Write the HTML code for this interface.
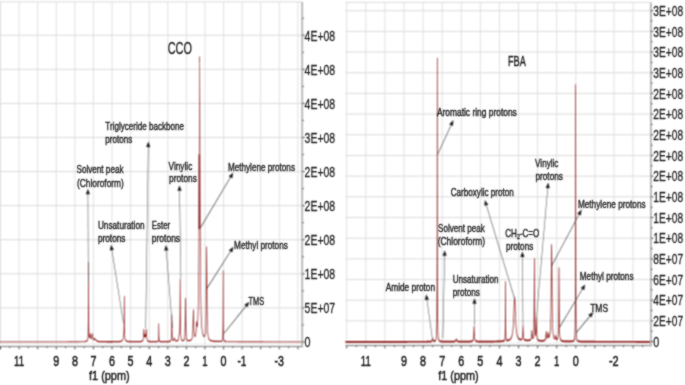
<!DOCTYPE html>
<html><head><meta charset="utf-8"><style>
html,body{margin:0;padding:0;background:#fff;width:685px;height:385px;overflow:hidden}
svg{display:block}
</style></head><body>
<svg width="685" height="385" viewBox="0 0 685 385"><defs><filter id="bl" x="0" y="0" width="1" height="1" color-interpolation-filters="sRGB"><feConvolveMatrix order="3" kernelMatrix="1 2 1 2 4 2 1 2 1" divisor="16" edgeMode="duplicate"/></filter><filter id="bt" x="0" y="0" width="1" height="1" color-interpolation-filters="sRGB"><feConvolveMatrix order="3" kernelMatrix="1 2 1 2 12 2 1 2 1" divisor="24" edgeMode="duplicate"/></filter></defs><g filter="url(#bl)"><rect width="685" height="385" fill="#ffffff"/><line x1="0.00" y1="307.90" x2="302.20" y2="307.90" stroke="#dadada" stroke-width="1"/><line x1="0.00" y1="273.82" x2="302.20" y2="273.82" stroke="#dadada" stroke-width="1"/><line x1="0.00" y1="239.74" x2="302.20" y2="239.74" stroke="#dadada" stroke-width="1"/><line x1="0.00" y1="205.66" x2="302.20" y2="205.66" stroke="#dadada" stroke-width="1"/><line x1="0.00" y1="171.58" x2="302.20" y2="171.58" stroke="#dadada" stroke-width="1"/><line x1="0.00" y1="137.50" x2="302.20" y2="137.50" stroke="#dadada" stroke-width="1"/><line x1="0.00" y1="103.42" x2="302.20" y2="103.42" stroke="#dadada" stroke-width="1"/><line x1="0.00" y1="69.34" x2="302.20" y2="69.34" stroke="#dadada" stroke-width="1"/><line x1="0.00" y1="35.26" x2="302.20" y2="35.26" stroke="#dadada" stroke-width="1"/><line x1="0.00" y1="1.90" x2="302.20" y2="1.90" stroke="#dadada" stroke-width="1"/><line x1="297.90" y1="1.90" x2="297.90" y2="344.60" stroke="#e0e0e0" stroke-width="1"/><line x1="279.31" y1="1.90" x2="279.31" y2="344.60" stroke="#e0e0e0" stroke-width="1"/><line x1="260.72" y1="1.90" x2="260.72" y2="344.60" stroke="#e0e0e0" stroke-width="1"/><line x1="242.14" y1="1.90" x2="242.14" y2="344.60" stroke="#e0e0e0" stroke-width="1"/><line x1="223.55" y1="1.90" x2="223.55" y2="344.60" stroke="#e0e0e0" stroke-width="1"/><line x1="204.96" y1="1.90" x2="204.96" y2="344.60" stroke="#e0e0e0" stroke-width="1"/><line x1="186.38" y1="1.90" x2="186.38" y2="344.60" stroke="#e0e0e0" stroke-width="1"/><line x1="167.79" y1="1.90" x2="167.79" y2="344.60" stroke="#e0e0e0" stroke-width="1"/><line x1="149.20" y1="1.90" x2="149.20" y2="344.60" stroke="#e0e0e0" stroke-width="1"/><line x1="130.62" y1="1.90" x2="130.62" y2="344.60" stroke="#e0e0e0" stroke-width="1"/><line x1="112.03" y1="1.90" x2="112.03" y2="344.60" stroke="#e0e0e0" stroke-width="1"/><line x1="93.44" y1="1.90" x2="93.44" y2="344.60" stroke="#e0e0e0" stroke-width="1"/><line x1="74.85" y1="1.90" x2="74.85" y2="344.60" stroke="#e0e0e0" stroke-width="1"/><line x1="56.27" y1="1.90" x2="56.27" y2="344.60" stroke="#e0e0e0" stroke-width="1"/><line x1="37.68" y1="1.90" x2="37.68" y2="344.60" stroke="#e0e0e0" stroke-width="1"/><line x1="19.09" y1="1.90" x2="19.09" y2="344.60" stroke="#e0e0e0" stroke-width="1"/><line x1="0.51" y1="1.90" x2="0.51" y2="344.60" stroke="#e0e0e0" stroke-width="1"/><line x1="0.00" y1="344.60" x2="302.20" y2="344.60" stroke="#ececec" stroke-width="1.5"/><line x1="0.00" y1="346.60" x2="302.20" y2="346.60" stroke="#7a7a7a" stroke-width="1.0"/><line x1="0.51" y1="346.60" x2="0.51" y2="349.40" stroke="#555555" stroke-width="1"/><line x1="9.80" y1="346.60" x2="9.80" y2="348.10" stroke="#555555" stroke-width="1"/><line x1="19.09" y1="346.60" x2="19.09" y2="349.40" stroke="#555555" stroke-width="1"/><line x1="28.39" y1="346.60" x2="28.39" y2="348.10" stroke="#555555" stroke-width="1"/><line x1="37.68" y1="346.60" x2="37.68" y2="349.40" stroke="#555555" stroke-width="1"/><line x1="46.97" y1="346.60" x2="46.97" y2="348.10" stroke="#555555" stroke-width="1"/><line x1="56.27" y1="346.60" x2="56.27" y2="349.40" stroke="#555555" stroke-width="1"/><line x1="65.56" y1="346.60" x2="65.56" y2="348.10" stroke="#555555" stroke-width="1"/><line x1="74.85" y1="346.60" x2="74.85" y2="349.40" stroke="#555555" stroke-width="1"/><line x1="84.15" y1="346.60" x2="84.15" y2="348.10" stroke="#555555" stroke-width="1"/><line x1="93.44" y1="346.60" x2="93.44" y2="349.40" stroke="#555555" stroke-width="1"/><line x1="102.73" y1="346.60" x2="102.73" y2="348.10" stroke="#555555" stroke-width="1"/><line x1="112.03" y1="346.60" x2="112.03" y2="349.40" stroke="#555555" stroke-width="1"/><line x1="121.32" y1="346.60" x2="121.32" y2="348.10" stroke="#555555" stroke-width="1"/><line x1="130.62" y1="346.60" x2="130.62" y2="349.40" stroke="#555555" stroke-width="1"/><line x1="139.91" y1="346.60" x2="139.91" y2="348.10" stroke="#555555" stroke-width="1"/><line x1="149.20" y1="346.60" x2="149.20" y2="349.40" stroke="#555555" stroke-width="1"/><line x1="158.50" y1="346.60" x2="158.50" y2="348.10" stroke="#555555" stroke-width="1"/><line x1="167.79" y1="346.60" x2="167.79" y2="349.40" stroke="#555555" stroke-width="1"/><line x1="177.08" y1="346.60" x2="177.08" y2="348.10" stroke="#555555" stroke-width="1"/><line x1="186.38" y1="346.60" x2="186.38" y2="349.40" stroke="#555555" stroke-width="1"/><line x1="195.67" y1="346.60" x2="195.67" y2="348.10" stroke="#555555" stroke-width="1"/><line x1="204.96" y1="346.60" x2="204.96" y2="349.40" stroke="#555555" stroke-width="1"/><line x1="214.26" y1="346.60" x2="214.26" y2="348.10" stroke="#555555" stroke-width="1"/><line x1="223.55" y1="346.60" x2="223.55" y2="349.40" stroke="#555555" stroke-width="1"/><line x1="232.84" y1="346.60" x2="232.84" y2="348.10" stroke="#555555" stroke-width="1"/><line x1="242.14" y1="346.60" x2="242.14" y2="349.40" stroke="#555555" stroke-width="1"/><line x1="251.43" y1="346.60" x2="251.43" y2="348.10" stroke="#555555" stroke-width="1"/><line x1="260.72" y1="346.60" x2="260.72" y2="349.40" stroke="#555555" stroke-width="1"/><line x1="270.02" y1="346.60" x2="270.02" y2="348.10" stroke="#555555" stroke-width="1"/><line x1="279.31" y1="346.60" x2="279.31" y2="349.40" stroke="#555555" stroke-width="1"/><line x1="288.60" y1="346.60" x2="288.60" y2="348.10" stroke="#555555" stroke-width="1"/><line x1="297.90" y1="346.60" x2="297.90" y2="349.40" stroke="#555555" stroke-width="1"/><line x1="302.20" y1="1.90" x2="302.20" y2="347.60" stroke="#b4b4b4" stroke-width="1.8"/><line x1="302.20" y1="341.98" x2="304.80" y2="341.98" stroke="#555555" stroke-width="1"/><line x1="302.20" y1="324.94" x2="303.80" y2="324.94" stroke="#555555" stroke-width="1"/><line x1="302.20" y1="307.90" x2="304.80" y2="307.90" stroke="#555555" stroke-width="1"/><line x1="302.20" y1="290.86" x2="303.80" y2="290.86" stroke="#555555" stroke-width="1"/><line x1="302.20" y1="273.82" x2="304.80" y2="273.82" stroke="#555555" stroke-width="1"/><line x1="302.20" y1="256.78" x2="303.80" y2="256.78" stroke="#555555" stroke-width="1"/><line x1="302.20" y1="239.74" x2="304.80" y2="239.74" stroke="#555555" stroke-width="1"/><line x1="302.20" y1="222.70" x2="303.80" y2="222.70" stroke="#555555" stroke-width="1"/><line x1="302.20" y1="205.66" x2="304.80" y2="205.66" stroke="#555555" stroke-width="1"/><line x1="302.20" y1="188.62" x2="303.80" y2="188.62" stroke="#555555" stroke-width="1"/><line x1="302.20" y1="171.58" x2="304.80" y2="171.58" stroke="#555555" stroke-width="1"/><line x1="302.20" y1="154.54" x2="303.80" y2="154.54" stroke="#555555" stroke-width="1"/><line x1="302.20" y1="137.50" x2="304.80" y2="137.50" stroke="#555555" stroke-width="1"/><line x1="302.20" y1="120.46" x2="303.80" y2="120.46" stroke="#555555" stroke-width="1"/><line x1="302.20" y1="103.42" x2="304.80" y2="103.42" stroke="#555555" stroke-width="1"/><line x1="302.20" y1="86.38" x2="303.80" y2="86.38" stroke="#555555" stroke-width="1"/><line x1="302.20" y1="69.34" x2="304.80" y2="69.34" stroke="#555555" stroke-width="1"/><line x1="302.20" y1="52.30" x2="303.80" y2="52.30" stroke="#555555" stroke-width="1"/><line x1="302.20" y1="35.26" x2="304.80" y2="35.26" stroke="#555555" stroke-width="1"/><line x1="302.20" y1="18.22" x2="303.80" y2="18.22" stroke="#555555" stroke-width="1"/><g transform="scale(0.5,1)"><path d="M0.00,341.80 L0.50,341.80 L1.00,341.80 L1.50,341.80 L2.00,341.80 L2.50,341.80 L3.00,341.80 L3.50,341.80 L4.00,341.80 L4.50,341.80 L5.00,341.80 L5.50,341.80 L6.00,341.80 L6.50,341.80 L7.00,341.80 L7.50,341.80 L8.00,341.80 L8.50,341.80 L9.00,341.80 L9.50,341.80 L10.00,341.80 L10.50,341.80 L11.00,341.80 L11.50,341.80 L12.00,341.80 L12.50,341.80 L13.00,341.80 L13.50,341.80 L14.00,341.80 L14.50,341.80 L15.00,341.80 L15.50,341.80 L16.00,341.80 L16.50,341.80 L17.00,341.80 L17.50,341.80 L18.00,341.80 L18.50,341.80 L19.00,341.80 L19.50,341.80 L20.00,341.80 L20.50,341.80 L21.00,341.80 L21.50,341.80 L22.00,341.80 L22.50,341.80 L23.00,341.80 L23.50,341.80 L24.00,341.80 L24.50,341.80 L25.00,341.80 L25.50,341.80 L26.00,341.79 L26.50,341.79 L27.00,341.79 L27.50,341.79 L28.00,341.79 L28.50,341.79 L29.00,341.79 L29.50,341.79 L30.00,341.79 L30.50,341.79 L31.00,341.79 L31.50,341.79 L32.00,341.79 L32.50,341.79 L33.00,341.79 L33.50,341.79 L34.00,341.79 L34.50,341.79 L35.00,341.79 L35.50,341.79 L36.00,341.79 L36.50,341.79 L37.00,341.79 L37.50,341.79 L38.00,341.79 L38.50,341.79 L39.00,341.79 L39.50,341.79 L40.00,341.79 L40.50,341.79 L41.00,341.79 L41.50,341.79 L42.00,341.79 L42.50,341.79 L43.00,341.79 L43.50,341.79 L44.00,341.79 L44.50,341.79 L45.00,341.79 L45.50,341.79 L46.00,341.79 L46.50,341.79 L47.00,341.79 L47.50,341.79 L48.00,341.79 L48.50,341.79 L49.00,341.79 L49.50,341.79 L50.00,341.79 L50.50,341.79 L51.00,341.79 L51.50,341.79 L52.00,341.79 L52.50,341.79 L53.00,341.79 L53.50,341.79 L54.00,341.79 L54.50,341.79 L55.00,341.79 L55.50,341.79 L56.00,341.79 L56.50,341.79 L57.00,341.79 L57.50,341.79 L58.00,341.79 L58.50,341.79 L59.00,341.79 L59.50,341.79 L60.00,341.79 L60.50,341.79 L61.00,341.79 L61.50,341.79 L62.00,341.79 L62.50,341.79 L63.00,341.79 L63.50,341.79 L64.00,341.79 L64.50,341.79 L65.00,341.79 L65.50,341.79 L66.00,341.79 L66.50,341.79 L67.00,341.79 L67.50,341.79 L68.00,341.79 L68.50,341.79 L69.00,341.79 L69.50,341.79 L70.00,341.79 L70.50,341.79 L71.00,341.79 L71.50,341.79 L72.00,341.79 L72.50,341.79 L73.00,341.79 L73.50,341.79 L74.00,341.79 L74.50,341.79 L75.00,341.79 L75.50,341.79 L76.00,341.79 L76.50,341.79 L77.00,341.79 L77.50,341.79 L78.00,341.79 L78.50,341.79 L79.00,341.79 L79.50,341.79 L80.00,341.79 L80.50,341.79 L81.00,341.79 L81.50,341.79 L82.00,341.79 L82.50,341.79 L83.00,341.79 L83.50,341.79 L84.00,341.79 L84.50,341.79 L85.00,341.79 L85.50,341.79 L86.00,341.79 L86.50,341.79 L87.00,341.79 L87.50,341.79 L88.00,341.79 L88.50,341.79 L89.00,341.79 L89.50,341.79 L90.00,341.79 L90.50,341.79 L91.00,341.79 L91.50,341.79 L92.00,341.79 L92.50,341.79 L93.00,341.79 L93.50,341.79 L94.00,341.79 L94.50,341.79 L95.00,341.79 L95.50,341.79 L96.00,341.79 L96.50,341.79 L97.00,341.79 L97.50,341.79 L98.00,341.79 L98.50,341.79 L99.00,341.79 L99.50,341.79 L100.00,341.79 L100.50,341.79 L101.00,341.79 L101.50,341.79 L102.00,341.79 L102.50,341.79 L103.00,341.79 L103.50,341.79 L104.00,341.79 L104.50,341.79 L105.00,341.79 L105.50,341.79 L106.00,341.79 L106.50,341.79 L107.00,341.79 L107.50,341.79 L108.00,341.79 L108.50,341.79 L109.00,341.79 L109.50,341.79 L110.00,341.79 L110.50,341.79 L111.00,341.79 L111.50,341.79 L112.00,341.79 L112.50,341.79 L113.00,341.79 L113.50,341.79 L114.00,341.79 L114.50,341.79 L115.00,341.79 L115.50,341.79 L116.00,341.79 L116.50,341.78 L117.00,341.78 L117.50,341.78 L118.00,341.78 L118.50,341.78 L119.00,341.78 L119.50,341.78 L120.00,341.78 L120.50,341.78 L121.00,341.78 L121.50,341.78 L122.00,341.78 L122.50,341.78 L123.00,341.78 L123.50,341.78 L124.00,341.78 L124.50,341.78 L125.00,341.78 L125.50,341.78 L126.00,341.78 L126.50,341.78 L127.00,341.78 L127.50,341.78 L128.00,341.78 L128.50,341.78 L129.00,341.78 L129.50,341.78 L130.00,341.78 L130.50,341.78 L131.00,341.78 L131.50,341.78 L132.00,341.78 L132.50,341.78 L133.00,341.78 L133.50,341.78 L134.00,341.78 L134.50,341.78 L135.00,341.78 L135.50,341.78 L136.00,341.77 L136.50,341.77 L137.00,341.77 L137.50,341.77 L138.00,341.77 L138.50,341.77 L139.00,341.77 L139.50,341.77 L140.00,341.77 L140.50,341.77 L141.00,341.77 L141.50,341.77 L142.00,341.77 L142.50,341.77 L143.00,341.77 L143.50,341.77 L144.00,341.77 L144.50,341.77 L145.00,341.77 L145.50,341.76 L146.00,341.76 L146.50,341.76 L147.00,341.76 L147.50,341.76 L148.00,341.76 L148.50,341.76 L149.00,341.76 L149.50,341.76 L150.00,341.76 L150.50,341.75 L151.00,341.75 L151.50,341.75 L152.00,341.75 L152.50,341.75 L153.00,341.75 L153.50,341.75 L154.00,341.74 L154.50,341.74 L155.00,341.74 L155.50,341.74 L156.00,341.74 L156.50,341.74 L157.00,341.73 L157.50,341.73 L158.00,341.73 L158.50,341.73 L159.00,341.72 L159.50,341.72 L160.00,341.72 L160.50,341.71 L161.00,341.71 L161.50,341.70 L162.00,341.70 L162.50,341.70 L163.00,341.69 L163.50,341.68 L164.00,341.68 L164.50,341.67 L165.00,341.66 L165.50,341.66 L166.00,341.65 L166.50,341.64 L167.00,341.63 L167.50,341.61 L168.00,341.60 L168.50,341.58 L169.00,341.56 L169.50,341.54 L170.00,341.52 L170.50,341.49 L171.00,341.45 L171.50,341.41 L172.00,341.36 L172.50,341.29 L173.00,341.20 L173.50,341.08 L174.00,340.91 L174.50,340.64 L175.00,340.19 L175.50,339.26 L176.00,336.85 L176.28,333.21 L176.50,326.29 L176.52,325.29 L176.64,316.79 L176.76,301.65 L176.86,283.14 L176.93,268.81 L176.96,264.04 L177.00,262.30 L177.04,264.01 L177.07,268.75 L177.14,283.02 L177.20,294.39 L177.24,301.45 L177.36,316.49 L177.48,324.87 L177.50,325.86 L177.72,332.56 L178.00,335.90 L178.20,336.94 L178.50,337.58 L178.70,337.64 L179.00,337.33 L179.20,336.88 L179.50,335.88 L179.60,335.49 L179.90,334.33 L180.00,334.05 L180.05,333.94 L180.20,333.80 L180.35,333.95 L180.50,334.35 L180.80,335.54 L181.00,336.34 L181.20,337.03 L181.40,337.57 L181.50,337.78 L181.70,338.12 L182.00,338.42 L182.20,338.50 L182.25,338.51 L182.40,338.50 L182.50,338.46 L182.90,338.10 L183.00,337.94 L183.20,337.54 L183.40,336.99 L183.50,336.67 L183.75,335.71 L183.80,335.50 L184.00,334.67 L184.10,334.31 L184.25,333.93 L184.40,333.80 L184.50,333.88 L184.55,333.97 L184.70,334.41 L185.00,335.68 L185.40,337.32 L185.50,337.64 L185.90,338.62 L186.00,338.80 L186.40,339.30 L186.50,339.38 L186.60,339.45 L186.80,339.56 L187.00,339.61 L187.20,339.62 L187.40,339.59 L187.50,339.55 L187.80,339.38 L188.00,339.21 L188.28,338.90 L188.40,338.76 L188.50,338.64 L188.64,338.49 L188.82,338.35 L189.00,338.30 L189.18,338.35 L189.20,338.36 L189.36,338.50 L189.50,338.65 L189.72,338.91 L190.00,339.21 L190.20,339.38 L190.50,339.56 L190.64,339.61 L190.80,339.65 L191.00,339.68 L191.12,339.70 L191.36,339.73 L191.40,339.74 L191.50,339.77 L191.60,339.80 L191.84,339.90 L192.00,339.99 L192.08,340.04 L192.50,340.32 L192.56,340.36 L192.60,340.39 L193.00,340.64 L193.20,340.75 L193.50,340.88 L194.00,341.06 L194.50,341.19 L194.80,341.25 L195.00,341.29 L195.50,341.36 L196.00,341.41 L196.40,341.45 L196.50,341.46 L197.00,341.49 L197.50,341.52 L198.00,341.55 L198.50,341.57 L199.00,341.59 L199.50,341.60 L200.00,341.61 L200.50,341.63 L201.00,341.64 L201.50,341.64 L202.00,341.65 L202.50,341.66 L203.00,341.67 L203.50,341.67 L204.00,341.68 L204.50,341.68 L205.00,341.69 L205.50,341.69 L206.00,341.70 L206.50,341.70 L207.00,341.70 L207.50,341.71 L208.00,341.71 L208.50,341.71 L209.00,341.71 L209.50,341.71 L210.00,341.72 L210.50,341.72 L211.00,341.72 L211.50,341.72 L212.00,341.72 L212.50,341.72 L213.00,341.72 L213.50,341.73 L214.00,341.73 L214.50,341.73 L215.00,341.73 L215.50,341.73 L216.00,341.73 L216.50,341.73 L217.00,341.73 L217.50,341.73 L218.00,341.73 L218.50,341.73 L219.00,341.73 L219.50,341.73 L220.00,341.73 L220.50,341.73 L221.00,341.73 L221.50,341.73 L222.00,341.73 L222.50,341.73 L223.00,341.73 L223.50,341.73 L224.00,341.73 L224.50,341.73 L225.00,341.72 L225.50,341.72 L226.00,341.72 L226.50,341.72 L227.00,341.72 L227.50,341.72 L228.00,341.71 L228.50,341.71 L229.00,341.71 L229.50,341.71 L230.00,341.70 L230.50,341.70 L231.00,341.70 L231.50,341.69 L232.00,341.69 L232.50,341.69 L233.00,341.68 L233.50,341.68 L234.00,341.67 L234.50,341.66 L235.00,341.65 L235.50,341.65 L236.00,341.64 L236.50,341.63 L236.80,341.62 L237.00,341.61 L237.50,341.60 L238.00,341.58 L238.50,341.56 L239.00,341.54 L239.50,341.52 L240.00,341.49 L240.50,341.45 L240.80,341.43 L241.00,341.41 L241.50,341.36 L242.00,341.29 L242.50,341.21 L242.80,341.15 L243.00,341.10 L243.50,340.97 L244.00,340.78 L244.40,340.58 L244.50,340.52 L244.80,340.31 L245.00,340.14 L245.10,340.05 L245.20,339.95 L245.50,339.59 L245.80,339.13 L246.00,338.76 L246.36,337.97 L246.40,337.87 L246.50,337.62 L246.78,336.90 L246.80,336.84 L246.99,336.35 L247.00,336.32 L247.20,335.80 L247.41,335.17 L247.50,334.82 L247.60,334.35 L247.62,334.24 L247.70,333.72 L248.00,329.85 L248.04,328.92 L248.15,325.44 L248.20,323.27 L248.30,317.40 L248.40,309.27 L248.42,307.45 L248.50,300.48 L248.51,299.74 L248.56,297.16 L248.60,296.30 L248.64,297.25 L248.69,299.94 L248.78,307.84 L248.80,309.70 L248.90,318.04 L249.00,324.13 L249.04,325.98 L249.05,326.41 L249.20,331.13 L249.30,333.11 L249.40,334.53 L249.50,335.58 L249.52,335.75 L249.76,337.30 L250.00,338.22 L250.24,338.82 L250.48,339.27 L250.50,339.30 L250.96,339.90 L251.00,339.94 L251.20,340.13 L251.40,340.29 L251.50,340.36 L251.60,340.43 L252.00,340.65 L252.40,340.83 L252.50,340.86 L252.80,340.96 L253.00,341.02 L253.20,341.07 L253.50,341.14 L254.00,341.23 L254.50,341.30 L254.80,341.34 L255.00,341.36 L255.50,341.41 L256.00,341.45 L256.50,341.48 L256.80,341.50 L257.00,341.51 L257.50,341.54 L258.00,341.56 L258.50,341.57 L259.00,341.59 L259.50,341.60 L260.00,341.61 L260.50,341.62 L260.80,341.63 L261.00,341.63 L261.50,341.64 L262.00,341.65 L262.50,341.65 L263.00,341.66 L263.50,341.67 L264.00,341.67 L264.50,341.67 L265.00,341.68 L265.50,341.68 L266.00,341.68 L266.50,341.68 L267.00,341.69 L267.50,341.69 L268.00,341.69 L268.50,341.69 L269.00,341.69 L269.50,341.69 L270.00,341.69 L270.50,341.69 L271.00,341.69 L271.50,341.69 L272.00,341.69 L272.50,341.69 L273.00,341.68 L273.50,341.68 L274.00,341.68 L274.50,341.68 L275.00,341.67 L275.50,341.67 L276.00,341.66 L276.50,341.66 L277.00,341.65 L277.50,341.64 L278.00,341.64 L278.50,341.63 L279.00,341.61 L279.50,341.60 L280.00,341.58 L280.50,341.57 L281.00,341.54 L281.50,341.51 L282.00,341.48 L282.50,341.44 L283.00,341.38 L283.50,341.30 L284.00,341.20 L284.50,341.06 L285.00,340.84 L285.50,340.50 L285.70,340.30 L286.00,339.90 L286.40,339.04 L286.50,338.74 L286.75,337.72 L287.00,336.20 L287.10,335.40 L287.38,332.56 L287.50,331.24 L287.59,330.36 L287.69,329.61 L287.80,329.30 L287.91,329.51 L288.00,330.08 L288.01,330.15 L288.22,332.14 L288.50,334.64 L288.60,335.31 L288.85,336.43 L289.00,336.78 L289.20,336.94 L289.40,336.78 L289.50,336.59 L289.72,335.96 L289.90,335.36 L289.96,335.18 L290.00,335.07 L290.08,334.90 L290.20,334.80 L290.32,334.90 L290.44,335.18 L290.50,335.36 L290.68,335.96 L291.00,336.78 L291.20,336.94 L291.40,336.78 L291.50,336.57 L291.55,336.43 L291.80,335.31 L291.90,334.64 L292.00,333.85 L292.18,332.14 L292.39,330.15 L292.50,329.50 L292.50,329.48 L292.60,329.30 L292.71,329.61 L292.81,330.36 L293.00,332.34 L293.02,332.56 L293.30,335.39 L293.50,336.88 L293.65,337.72 L294.00,339.04 L294.50,340.05 L294.70,340.30 L295.00,340.58 L295.50,340.89 L296.00,341.09 L296.50,341.22 L297.00,341.32 L297.50,341.39 L298.00,341.44 L298.50,341.48 L299.00,341.52 L299.50,341.54 L300.00,341.56 L300.50,341.58 L301.00,341.60 L301.50,341.61 L302.00,341.62 L302.50,341.63 L303.00,341.64 L303.50,341.65 L304.00,341.65 L304.50,341.66 L305.00,341.66 L305.50,341.66 L306.00,341.67 L306.50,341.67 L307.00,341.67 L307.50,341.67 L308.00,341.68 L308.50,341.68 L309.00,341.68 L309.50,341.68 L310.00,341.68 L310.50,341.67 L311.00,341.67 L311.50,341.67 L312.00,341.66 L312.50,341.66 L313.00,341.65 L313.50,341.64 L314.00,341.62 L314.50,341.59 L315.00,341.55 L315.50,341.47 L316.00,341.31 L316.50,340.89 L316.88,339.91 L317.00,339.23 L317.12,338.12 L317.24,336.19 L317.36,332.75 L317.46,328.54 L317.50,326.45 L317.53,325.28 L317.56,324.19 L317.60,323.80 L317.64,324.19 L317.67,325.28 L317.74,328.54 L317.84,332.75 L317.96,336.19 L318.00,336.96 L318.08,338.12 L318.32,339.91 L318.50,340.51 L319.00,341.19 L319.50,341.41 L320.00,341.52 L320.50,341.57 L321.00,341.60 L321.50,341.62 L322.00,341.64 L322.50,341.65 L323.00,341.65 L323.50,341.66 L324.00,341.66 L324.50,341.66 L325.00,341.66 L325.50,341.66 L326.00,341.66 L326.50,341.66 L327.00,341.66 L327.50,341.66 L328.00,341.66 L328.50,341.66 L329.00,341.65 L329.50,341.65 L330.00,341.65 L330.50,341.64 L331.00,341.64 L331.50,341.64 L332.00,341.63 L332.50,341.62 L333.00,341.62 L333.50,341.61 L334.00,341.60 L334.50,341.60 L335.00,341.59 L335.50,341.57 L336.00,341.56 L336.50,341.55 L337.00,341.53 L337.50,341.51 L338.00,341.48 L338.50,341.44 L339.00,341.40 L339.50,341.34 L340.00,341.26 L340.50,341.13 L341.00,340.94 L341.50,340.61 L342.00,339.96 L342.40,338.85 L342.50,338.40 L342.80,336.17 L343.00,333.29 L343.20,328.15 L343.36,321.87 L343.48,317.01 L343.50,316.37 L343.54,315.39 L343.60,314.80 L343.66,315.38 L343.72,316.99 L343.84,321.84 L344.00,328.09 L344.20,333.20 L344.40,336.05 L344.50,336.98 L344.80,338.67 L345.00,339.30 L345.20,339.71 L345.50,340.09 L346.00,340.37 L346.40,340.42 L346.50,340.41 L347.00,340.25 L347.50,339.86 L347.60,339.75 L348.00,339.20 L348.08,339.07 L348.44,338.54 L348.50,338.47 L348.62,338.36 L348.80,338.30 L348.98,338.37 L349.00,338.39 L349.16,338.56 L349.50,339.08 L349.52,339.12 L350.00,339.83 L350.50,340.33 L350.60,340.41 L351.00,340.63 L351.20,340.71 L351.50,340.81 L352.00,340.90 L352.40,340.94 L352.50,340.95 L353.00,340.96 L353.50,340.94 L354.00,340.89 L354.50,340.80 L355.00,340.67 L355.40,340.52 L355.50,340.47 L356.00,340.16 L356.40,339.78 L356.50,339.66 L356.90,339.03 L357.00,338.83 L357.40,337.74 L357.50,337.39 L357.80,336.15 L358.00,335.24 L358.10,334.80 L358.25,334.23 L358.40,333.80 L358.50,333.61 L358.55,333.53 L358.70,333.37 L359.00,332.91 L359.20,332.06 L359.40,330.30 L359.50,328.89 L359.60,326.96 L359.80,320.70 L359.90,315.78 L360.00,309.16 L360.16,294.87 L360.28,283.78 L360.34,280.10 L360.40,278.80 L360.46,280.20 L360.50,282.50 L360.52,283.98 L360.64,295.27 L360.80,309.85 L361.00,321.78 L361.20,328.49 L361.40,332.37 L361.50,333.70 L361.60,334.76 L362.00,337.37 L362.50,338.90 L363.00,339.66 L363.50,340.09 L364.00,340.35 L364.50,340.50 L365.00,340.59 L365.50,340.62 L366.00,340.62 L366.50,340.57 L367.00,340.47 L367.50,340.30 L368.00,340.02 L368.50,339.54 L369.00,338.68 L369.50,336.92 L370.00,332.63 L370.25,328.01 L370.50,319.75 L370.70,309.66 L370.85,301.84 L370.93,299.22 L371.00,298.30 L371.07,299.22 L371.15,301.84 L371.30,309.65 L371.50,319.74 L371.75,327.99 L372.00,332.60 L372.50,336.88 L373.00,338.63 L373.50,339.49 L374.00,339.96 L374.50,340.24 L375.00,340.41 L375.50,340.52 L376.00,340.59 L376.50,340.63 L377.00,340.64 L377.50,340.64 L378.00,340.63 L378.50,340.60 L379.00,340.56 L379.50,340.51 L380.00,340.45 L380.50,340.37 L381.00,340.26 L381.50,340.14 L382.00,339.98 L382.50,339.77 L383.00,339.50 L383.50,339.13 L384.00,338.57 L384.50,337.71 L384.70,337.22 L385.00,336.22 L385.40,334.08 L385.50,333.32 L385.75,330.78 L386.00,326.95 L386.10,324.94 L386.38,317.84 L386.50,314.53 L386.59,312.33 L386.69,310.50 L386.80,309.80 L386.91,310.43 L387.00,311.98 L387.01,312.19 L387.22,317.55 L387.50,324.46 L387.85,330.05 L388.00,331.58 L388.20,333.09 L388.40,334.16 L388.50,334.57 L388.90,335.67 L389.00,335.84 L389.50,336.33 L390.00,336.38 L390.50,336.11 L391.00,335.53 L391.10,335.37 L391.50,334.51 L391.60,334.22 L391.80,333.55 L392.00,332.67 L392.15,331.84 L392.50,329.06 L392.78,325.80 L392.99,323.25 L393.00,323.14 L393.09,322.31 L393.20,321.80 L393.31,321.80 L393.41,322.22 L393.50,322.82 L393.62,323.74 L393.90,325.57 L394.00,325.98 L394.25,326.44 L394.50,326.24 L394.60,326.01 L394.80,325.33 L395.00,324.37 L395.30,322.44 L395.50,320.79 L396.00,315.12 L396.08,313.96 L396.20,312.05 L396.50,306.27 L397.00,291.97 L397.04,290.47 L397.10,288.11 L397.20,283.81 L397.50,267.61 L397.52,266.32 L397.60,260.84 L397.70,253.23 L397.85,239.98 L398.00,224.18 L398.10,212.03 L398.20,198.50 L398.30,183.55 L398.45,158.64 L398.48,153.35 L398.50,149.78 L398.53,145.10 L398.60,131.57 L398.68,117.60 L398.75,104.29 L398.90,80.04 L398.96,72.10 L399.00,67.59 L399.05,62.96 L399.10,59.55 L399.20,56.80 L399.35,63.12 L399.50,80.36 L399.60,96.11 L399.80,132.14 L399.92,153.94 L400.00,167.81 L400.10,184.08 L400.20,199.00 L400.50,235.44 L400.70,253.65 L401.00,274.07 L401.20,284.26 L401.50,295.92 L402.00,308.96 L402.20,312.69 L402.50,317.20 L402.80,320.74 L403.00,322.69 L403.50,326.49 L404.00,329.22 L404.40,330.87 L404.50,331.22 L405.00,332.73 L405.50,333.88 L406.00,334.75 L406.50,335.41 L407.00,335.89 L407.50,336.21 L407.60,336.26 L408.00,336.39 L408.50,336.41 L409.00,336.23 L409.50,335.81 L410.00,335.02 L410.50,333.61 L411.00,331.09 L411.10,330.37 L411.50,326.30 L411.80,321.24 L412.00,316.26 L412.15,311.27 L412.50,293.38 L412.78,271.45 L412.99,254.47 L413.00,253.81 L413.09,248.87 L413.20,246.80 L413.31,248.92 L413.41,254.56 L413.50,261.37 L413.62,271.63 L413.90,293.68 L414.00,299.90 L414.25,311.72 L414.50,319.51 L414.60,321.84 L415.00,328.32 L415.30,331.30 L415.50,332.75 L416.00,335.24 L416.50,336.77 L417.00,337.78 L417.50,338.48 L418.00,339.00 L418.50,339.38 L419.00,339.68 L419.50,339.92 L420.00,340.11 L420.50,340.27 L421.00,340.41 L421.50,340.52 L422.00,340.62 L422.50,340.71 L423.00,340.78 L423.50,340.85 L424.00,340.90 L424.50,340.96 L425.00,341.00 L425.50,341.05 L426.00,341.08 L426.50,341.12 L427.00,341.15 L427.50,341.18 L428.00,341.21 L428.50,341.23 L429.00,341.26 L429.50,341.28 L430.00,341.30 L430.50,341.32 L431.00,341.33 L431.50,341.35 L432.00,341.36 L432.50,341.38 L433.00,341.39 L433.50,341.40 L434.00,341.41 L434.50,341.42 L435.00,341.43 L435.50,341.44 L436.00,341.44 L436.50,341.45 L437.00,341.45 L437.50,341.46 L438.00,341.46 L438.50,341.46 L439.00,341.46 L439.50,341.46 L440.00,341.45 L440.50,341.44 L441.00,341.42 L441.50,341.40 L442.00,341.36 L442.50,341.31 L443.00,341.23 L443.50,341.11 L444.00,340.89 L444.50,340.49 L445.00,339.58 L445.50,336.91 L445.68,334.53 L445.92,327.45 L446.00,322.87 L446.04,319.82 L446.16,306.21 L446.26,289.54 L446.33,276.65 L446.36,272.36 L446.40,270.80 L446.44,272.36 L446.47,276.65 L446.50,281.28 L446.54,289.55 L446.64,306.21 L446.76,319.83 L446.88,327.46 L447.00,331.85 L447.12,334.54 L447.50,338.41 L448.00,340.07 L448.50,340.72 L449.00,341.04 L449.50,341.22 L450.00,341.33 L450.50,341.40 L451.00,341.46 L451.50,341.50 L452.00,341.53 L452.50,341.55 L453.00,341.57 L453.50,341.58 L454.00,341.60 L454.50,341.61 L455.00,341.62 L455.50,341.62 L456.00,341.63 L456.50,341.64 L457.00,341.64 L457.50,341.65 L458.00,341.65 L458.50,341.66 L459.00,341.66 L459.50,341.67 L460.00,341.67 L460.50,341.67 L461.00,341.68 L461.50,341.68 L462.00,341.68 L462.50,341.68 L463.00,341.69 L463.50,341.69 L464.00,341.69 L464.50,341.69 L465.00,341.70 L465.50,341.70 L466.00,341.70 L466.50,341.70 L467.00,341.70 L467.50,341.71 L468.00,341.71 L468.50,341.71 L469.00,341.71 L469.50,341.71 L470.00,341.71 L470.50,341.71 L471.00,341.72 L471.50,341.72 L472.00,341.72 L472.50,341.72 L473.00,341.72 L473.50,341.72 L474.00,341.72 L474.50,341.72 L475.00,341.73 L475.50,341.73 L476.00,341.73 L476.50,341.73 L477.00,341.73 L477.50,341.73 L478.00,341.73 L478.50,341.73 L479.00,341.73 L479.50,341.73 L480.00,341.74 L480.50,341.74 L481.00,341.74 L481.50,341.74 L482.00,341.74 L482.50,341.74 L483.00,341.74 L483.50,341.74 L484.00,341.74 L484.50,341.74 L485.00,341.74 L485.50,341.74 L486.00,341.74 L486.50,341.75 L487.00,341.75 L487.50,341.75 L488.00,341.75 L488.50,341.75 L489.00,341.75 L489.50,341.75 L490.00,341.75 L490.50,341.75 L491.00,341.75 L491.50,341.75 L492.00,341.75 L492.50,341.75 L493.00,341.75 L493.50,341.75 L494.00,341.75 L494.50,341.75 L495.00,341.76 L495.50,341.76 L496.00,341.76 L496.50,341.76 L497.00,341.76 L497.50,341.76 L498.00,341.76 L498.50,341.76 L499.00,341.76 L499.50,341.76 L500.00,341.76 L500.50,341.76 L501.00,341.76 L501.50,341.76 L502.00,341.76 L502.50,341.76 L503.00,341.76 L503.50,341.76 L504.00,341.76 L504.50,341.76 L505.00,341.76 L505.50,341.76 L506.00,341.76 L506.50,341.76 L507.00,341.76 L507.50,341.77 L508.00,341.77 L508.50,341.77 L509.00,341.77 L509.50,341.77 L510.00,341.77 L510.50,341.77 L511.00,341.77 L511.50,341.77 L512.00,341.77 L512.50,341.77 L513.00,341.77 L513.50,341.77 L514.00,341.77 L514.50,341.77 L515.00,341.77 L515.50,341.77 L516.00,341.77 L516.50,341.77 L517.00,341.77 L517.50,341.77 L518.00,341.77 L518.50,341.77 L519.00,341.77 L519.50,341.77 L520.00,341.77 L520.50,341.77 L521.00,341.77 L521.50,341.77 L522.00,341.77 L522.50,341.77 L523.00,341.77 L523.50,341.77 L524.00,341.77 L524.50,341.77 L525.00,341.77 L525.50,341.77 L526.00,341.77 L526.50,341.77 L527.00,341.77 L527.50,341.78 L528.00,341.78 L528.50,341.78 L529.00,341.78 L529.50,341.78 L530.00,341.78 L530.50,341.78 L531.00,341.78 L531.50,341.78 L532.00,341.78 L532.50,341.78 L533.00,341.78 L533.50,341.78 L534.00,341.78 L534.50,341.78 L535.00,341.78 L535.50,341.78 L536.00,341.78 L536.50,341.78 L537.00,341.78 L537.50,341.78 L538.00,341.78 L538.50,341.78 L539.00,341.78 L539.50,341.78 L540.00,341.78 L540.50,341.78 L541.00,341.78 L541.50,341.78 L542.00,341.78 L542.50,341.78 L543.00,341.78 L543.50,341.78 L544.00,341.78 L544.50,341.78 L545.00,341.78 L545.50,341.78 L546.00,341.78 L546.50,341.78 L547.00,341.78 L547.50,341.78 L548.00,341.78 L548.50,341.78 L549.00,341.78 L549.50,341.78 L550.00,341.78 L550.50,341.78 L551.00,341.78 L551.50,341.78 L552.00,341.78 L552.50,341.78 L553.00,341.78 L553.50,341.78 L554.00,341.78 L554.50,341.78 L555.00,341.78 L555.50,341.78 L556.00,341.78 L556.50,341.78 L557.00,341.78 L557.50,341.78 L558.00,341.78 L558.50,341.78 L559.00,341.78 L559.50,341.78 L560.00,341.78 L560.50,341.78 L561.00,341.78 L561.50,341.78 L562.00,341.78 L562.50,341.78 L563.00,341.78 L563.50,341.78 L564.00,341.78 L564.50,341.78 L565.00,341.79 L565.50,341.79 L566.00,341.79 L566.50,341.79 L567.00,341.79 L567.50,341.79 L568.00,341.79 L568.50,341.79 L569.00,341.79 L569.50,341.79 L570.00,341.79 L570.50,341.79 L571.00,341.79 L571.50,341.79 L572.00,341.79 L572.50,341.79 L573.00,341.79 L573.50,341.79 L574.00,341.79 L574.50,341.79 L575.00,341.79 L575.50,341.79 L576.00,341.79 L576.50,341.79 L577.00,341.79 L577.50,341.79 L578.00,341.79 L578.50,341.79 L579.00,341.79 L579.50,341.79 L580.00,341.79 L580.50,341.79 L581.00,341.79 L581.50,341.79 L582.00,341.79 L582.50,341.79 L583.00,341.79 L583.50,341.79 L584.00,341.79 L584.50,341.79 L585.00,341.79 L585.50,341.79 L586.00,341.79 L586.50,341.79 L587.00,341.79 L587.50,341.79 L588.00,341.79 L588.50,341.79 L589.00,341.79 L589.50,341.79 L590.00,341.79 L590.50,341.79 L591.00,341.79 L591.50,341.79 L592.00,341.79 L592.50,341.79 L593.00,341.79 L593.50,341.79 L594.00,341.79 L594.50,341.79 L595.00,341.79 L595.50,341.79 L596.00,341.79 L596.50,341.79 L597.00,341.79 L597.50,341.79 L598.00,341.79 L598.50,341.79 L599.00,341.79 L599.50,341.79 L600.00,341.79 L600.50,341.79 L601.00,341.79 L601.50,341.79 L602.00,341.79 L602.50,341.79 L603.00,341.79" fill="none" stroke="#8a1212" stroke-width="1.3" stroke-linejoin="round" opacity="1"/></g><line x1="199.60" y1="62.00" x2="199.60" y2="154.50" stroke="#ffffff" stroke-width="1.6" stroke-opacity="0.3"/><line x1="199.30" y1="154.50" x2="199.30" y2="229.00" stroke="#8c1c1c" stroke-width="1.4"/><line x1="0.00" y1="341.80" x2="85.50" y2="341.80" stroke="#ffffff" stroke-width="2.2" stroke-opacity="0.35"/><line x1="226.00" y1="341.80" x2="301.50" y2="341.80" stroke="#ffffff" stroke-width="2.2" stroke-opacity="0.35"/><g transform="scale(0.5,1)"><line x1="176.60" y1="283.00" x2="175.83" y2="194.30" stroke="#505050" stroke-width="1.1"/></g><polygon points="87.89,188.80 90.01,194.29 85.81,194.31" fill="#1a1a1a"/><g transform="scale(0.5,1)"><line x1="291.40" y1="328.00" x2="296.51" y2="147.10" stroke="#505050" stroke-width="1.1"/></g><polygon points="148.33,141.60 150.36,147.13 146.16,147.07" fill="#1a1a1a"/><g transform="scale(0.5,1)"><line x1="246.80" y1="322.90" x2="223.77" y2="250.06" stroke="#505050" stroke-width="1.1"/></g><polygon points="111.03,244.63 113.96,249.73 109.81,250.39" fill="#1a1a1a"/><g transform="scale(0.5,1)"><line x1="345.00" y1="328.00" x2="332.50" y2="250.49" stroke="#505050" stroke-width="1.1"/></g><polygon points="165.81,245.01 168.34,250.32 164.16,250.66" fill="#1a1a1a"/><g transform="scale(0.5,1)"><line x1="361.80" y1="278.00" x2="359.10" y2="190.80" stroke="#505050" stroke-width="1.1"/></g><polygon points="179.46,185.30 181.65,190.77 177.45,190.83" fill="#1a1a1a"/><g transform="scale(0.5,1)"><line x1="400.60" y1="228.00" x2="460.83" y2="177.36" stroke="#505050" stroke-width="1.1"/></g><polygon points="233.23,172.64 232.22,178.44 228.61,176.29" fill="#1a1a1a"/><g transform="scale(0.5,1)"><line x1="413.80" y1="288.50" x2="461.07" y2="251.32" stroke="#505050" stroke-width="1.1"/></g><polygon points="233.49,246.67 232.31,252.44 228.76,250.19" fill="#1a1a1a"/><g transform="scale(0.5,1)"><line x1="448.60" y1="333.10" x2="491.93" y2="306.02" stroke="#505050" stroke-width="1.1"/></g><polygon points="249.40,301.73 247.60,307.33 244.32,304.71" fill="#1a1a1a"/><line x1="345.40" y1="320.90" x2="650.90" y2="320.90" stroke="#dadada" stroke-width="1"/><line x1="345.40" y1="300.22" x2="650.90" y2="300.22" stroke="#dadada" stroke-width="1"/><line x1="345.40" y1="279.54" x2="650.90" y2="279.54" stroke="#dadada" stroke-width="1"/><line x1="345.40" y1="258.86" x2="650.90" y2="258.86" stroke="#dadada" stroke-width="1"/><line x1="345.40" y1="238.18" x2="650.90" y2="238.18" stroke="#dadada" stroke-width="1"/><line x1="345.40" y1="217.50" x2="650.90" y2="217.50" stroke="#dadada" stroke-width="1"/><line x1="345.40" y1="196.82" x2="650.90" y2="196.82" stroke="#dadada" stroke-width="1"/><line x1="345.40" y1="176.14" x2="650.90" y2="176.14" stroke="#dadada" stroke-width="1"/><line x1="345.40" y1="155.46" x2="650.90" y2="155.46" stroke="#dadada" stroke-width="1"/><line x1="345.40" y1="134.78" x2="650.90" y2="134.78" stroke="#dadada" stroke-width="1"/><line x1="345.40" y1="114.10" x2="650.90" y2="114.10" stroke="#dadada" stroke-width="1"/><line x1="345.40" y1="93.42" x2="650.90" y2="93.42" stroke="#dadada" stroke-width="1"/><line x1="345.40" y1="72.74" x2="650.90" y2="72.74" stroke="#dadada" stroke-width="1"/><line x1="345.40" y1="52.06" x2="650.90" y2="52.06" stroke="#dadada" stroke-width="1"/><line x1="345.40" y1="31.38" x2="650.90" y2="31.38" stroke="#dadada" stroke-width="1"/><line x1="345.40" y1="10.70" x2="650.90" y2="10.70" stroke="#dadada" stroke-width="1"/><line x1="345.40" y1="2.40" x2="650.90" y2="2.40" stroke="#dadada" stroke-width="1"/><line x1="633.07" y1="2.40" x2="633.07" y2="343.60" stroke="#e0e0e0" stroke-width="1"/><line x1="613.98" y1="2.40" x2="613.98" y2="343.60" stroke="#e0e0e0" stroke-width="1"/><line x1="594.89" y1="2.40" x2="594.89" y2="343.60" stroke="#e0e0e0" stroke-width="1"/><line x1="575.80" y1="2.40" x2="575.80" y2="343.60" stroke="#e0e0e0" stroke-width="1"/><line x1="556.71" y1="2.40" x2="556.71" y2="343.60" stroke="#e0e0e0" stroke-width="1"/><line x1="537.62" y1="2.40" x2="537.62" y2="343.60" stroke="#e0e0e0" stroke-width="1"/><line x1="518.53" y1="2.40" x2="518.53" y2="343.60" stroke="#e0e0e0" stroke-width="1"/><line x1="499.44" y1="2.40" x2="499.44" y2="343.60" stroke="#e0e0e0" stroke-width="1"/><line x1="480.35" y1="2.40" x2="480.35" y2="343.60" stroke="#e0e0e0" stroke-width="1"/><line x1="461.26" y1="2.40" x2="461.26" y2="343.60" stroke="#e0e0e0" stroke-width="1"/><line x1="442.17" y1="2.40" x2="442.17" y2="343.60" stroke="#e0e0e0" stroke-width="1"/><line x1="423.08" y1="2.40" x2="423.08" y2="343.60" stroke="#e0e0e0" stroke-width="1"/><line x1="403.99" y1="2.40" x2="403.99" y2="343.60" stroke="#e0e0e0" stroke-width="1"/><line x1="384.90" y1="2.40" x2="384.90" y2="343.60" stroke="#e0e0e0" stroke-width="1"/><line x1="365.81" y1="2.40" x2="365.81" y2="343.60" stroke="#e0e0e0" stroke-width="1"/><line x1="346.72" y1="2.40" x2="346.72" y2="343.60" stroke="#e0e0e0" stroke-width="1"/><line x1="345.40" y1="343.60" x2="650.90" y2="343.60" stroke="#ececec" stroke-width="1.5"/><line x1="345.40" y1="345.60" x2="650.90" y2="345.60" stroke="#7a7a7a" stroke-width="1.0"/><line x1="346.72" y1="345.60" x2="346.72" y2="348.40" stroke="#555555" stroke-width="1"/><line x1="356.26" y1="345.60" x2="356.26" y2="347.10" stroke="#555555" stroke-width="1"/><line x1="365.81" y1="345.60" x2="365.81" y2="348.40" stroke="#555555" stroke-width="1"/><line x1="375.35" y1="345.60" x2="375.35" y2="347.10" stroke="#555555" stroke-width="1"/><line x1="384.90" y1="345.60" x2="384.90" y2="348.40" stroke="#555555" stroke-width="1"/><line x1="394.44" y1="345.60" x2="394.44" y2="347.10" stroke="#555555" stroke-width="1"/><line x1="403.99" y1="345.60" x2="403.99" y2="348.40" stroke="#555555" stroke-width="1"/><line x1="413.53" y1="345.60" x2="413.53" y2="347.10" stroke="#555555" stroke-width="1"/><line x1="423.08" y1="345.60" x2="423.08" y2="348.40" stroke="#555555" stroke-width="1"/><line x1="432.62" y1="345.60" x2="432.62" y2="347.10" stroke="#555555" stroke-width="1"/><line x1="442.17" y1="345.60" x2="442.17" y2="348.40" stroke="#555555" stroke-width="1"/><line x1="451.71" y1="345.60" x2="451.71" y2="347.10" stroke="#555555" stroke-width="1"/><line x1="461.26" y1="345.60" x2="461.26" y2="348.40" stroke="#555555" stroke-width="1"/><line x1="470.80" y1="345.60" x2="470.80" y2="347.10" stroke="#555555" stroke-width="1"/><line x1="480.35" y1="345.60" x2="480.35" y2="348.40" stroke="#555555" stroke-width="1"/><line x1="489.89" y1="345.60" x2="489.89" y2="347.10" stroke="#555555" stroke-width="1"/><line x1="499.44" y1="345.60" x2="499.44" y2="348.40" stroke="#555555" stroke-width="1"/><line x1="508.98" y1="345.60" x2="508.98" y2="347.10" stroke="#555555" stroke-width="1"/><line x1="518.53" y1="345.60" x2="518.53" y2="348.40" stroke="#555555" stroke-width="1"/><line x1="528.07" y1="345.60" x2="528.07" y2="347.10" stroke="#555555" stroke-width="1"/><line x1="537.62" y1="345.60" x2="537.62" y2="348.40" stroke="#555555" stroke-width="1"/><line x1="547.16" y1="345.60" x2="547.16" y2="347.10" stroke="#555555" stroke-width="1"/><line x1="556.71" y1="345.60" x2="556.71" y2="348.40" stroke="#555555" stroke-width="1"/><line x1="566.25" y1="345.60" x2="566.25" y2="347.10" stroke="#555555" stroke-width="1"/><line x1="575.80" y1="345.60" x2="575.80" y2="348.40" stroke="#555555" stroke-width="1"/><line x1="585.34" y1="345.60" x2="585.34" y2="347.10" stroke="#555555" stroke-width="1"/><line x1="594.89" y1="345.60" x2="594.89" y2="348.40" stroke="#555555" stroke-width="1"/><line x1="604.43" y1="345.60" x2="604.43" y2="347.10" stroke="#555555" stroke-width="1"/><line x1="613.98" y1="345.60" x2="613.98" y2="348.40" stroke="#555555" stroke-width="1"/><line x1="623.52" y1="345.60" x2="623.52" y2="347.10" stroke="#555555" stroke-width="1"/><line x1="633.07" y1="345.60" x2="633.07" y2="348.40" stroke="#555555" stroke-width="1"/><line x1="642.62" y1="345.60" x2="642.62" y2="347.10" stroke="#555555" stroke-width="1"/><line x1="650.90" y1="2.40" x2="650.90" y2="346.60" stroke="#b4b4b4" stroke-width="1.8"/><line x1="650.90" y1="341.58" x2="653.50" y2="341.58" stroke="#555555" stroke-width="1"/><line x1="650.90" y1="331.24" x2="652.50" y2="331.24" stroke="#555555" stroke-width="1"/><line x1="650.90" y1="320.90" x2="653.50" y2="320.90" stroke="#555555" stroke-width="1"/><line x1="650.90" y1="310.56" x2="652.50" y2="310.56" stroke="#555555" stroke-width="1"/><line x1="650.90" y1="300.22" x2="653.50" y2="300.22" stroke="#555555" stroke-width="1"/><line x1="650.90" y1="289.88" x2="652.50" y2="289.88" stroke="#555555" stroke-width="1"/><line x1="650.90" y1="279.54" x2="653.50" y2="279.54" stroke="#555555" stroke-width="1"/><line x1="650.90" y1="269.20" x2="652.50" y2="269.20" stroke="#555555" stroke-width="1"/><line x1="650.90" y1="258.86" x2="653.50" y2="258.86" stroke="#555555" stroke-width="1"/><line x1="650.90" y1="248.52" x2="652.50" y2="248.52" stroke="#555555" stroke-width="1"/><line x1="650.90" y1="238.18" x2="653.50" y2="238.18" stroke="#555555" stroke-width="1"/><line x1="650.90" y1="227.84" x2="652.50" y2="227.84" stroke="#555555" stroke-width="1"/><line x1="650.90" y1="217.50" x2="653.50" y2="217.50" stroke="#555555" stroke-width="1"/><line x1="650.90" y1="207.16" x2="652.50" y2="207.16" stroke="#555555" stroke-width="1"/><line x1="650.90" y1="196.82" x2="653.50" y2="196.82" stroke="#555555" stroke-width="1"/><line x1="650.90" y1="186.48" x2="652.50" y2="186.48" stroke="#555555" stroke-width="1"/><line x1="650.90" y1="176.14" x2="653.50" y2="176.14" stroke="#555555" stroke-width="1"/><line x1="650.90" y1="165.80" x2="652.50" y2="165.80" stroke="#555555" stroke-width="1"/><line x1="650.90" y1="155.46" x2="653.50" y2="155.46" stroke="#555555" stroke-width="1"/><line x1="650.90" y1="145.12" x2="652.50" y2="145.12" stroke="#555555" stroke-width="1"/><line x1="650.90" y1="134.78" x2="653.50" y2="134.78" stroke="#555555" stroke-width="1"/><line x1="650.90" y1="124.44" x2="652.50" y2="124.44" stroke="#555555" stroke-width="1"/><line x1="650.90" y1="114.10" x2="653.50" y2="114.10" stroke="#555555" stroke-width="1"/><line x1="650.90" y1="103.76" x2="652.50" y2="103.76" stroke="#555555" stroke-width="1"/><line x1="650.90" y1="93.42" x2="653.50" y2="93.42" stroke="#555555" stroke-width="1"/><line x1="650.90" y1="83.08" x2="652.50" y2="83.08" stroke="#555555" stroke-width="1"/><line x1="650.90" y1="72.74" x2="653.50" y2="72.74" stroke="#555555" stroke-width="1"/><line x1="650.90" y1="62.40" x2="652.50" y2="62.40" stroke="#555555" stroke-width="1"/><line x1="650.90" y1="52.06" x2="653.50" y2="52.06" stroke="#555555" stroke-width="1"/><line x1="650.90" y1="41.72" x2="652.50" y2="41.72" stroke="#555555" stroke-width="1"/><line x1="650.90" y1="31.38" x2="653.50" y2="31.38" stroke="#555555" stroke-width="1"/><line x1="650.90" y1="21.04" x2="652.50" y2="21.04" stroke="#555555" stroke-width="1"/><line x1="650.90" y1="10.70" x2="653.50" y2="10.70" stroke="#555555" stroke-width="1"/><g transform="scale(0.4,1)"><path d="M863.50,341.79 L864.12,341.79 L864.75,341.79 L865.37,341.79 L866.00,341.79 L866.62,341.79 L867.25,341.79 L867.87,341.79 L868.50,341.79 L869.12,341.79 L869.75,341.79 L870.37,341.79 L871.00,341.79 L871.62,341.79 L872.25,341.79 L872.87,341.79 L873.50,341.79 L874.12,341.79 L874.75,341.79 L875.37,341.79 L876.00,341.79 L876.62,341.79 L877.25,341.79 L877.87,341.79 L878.50,341.79 L879.12,341.79 L879.75,341.79 L880.37,341.79 L881.00,341.79 L881.62,341.79 L882.25,341.79 L882.87,341.79 L883.50,341.79 L884.12,341.79 L884.75,341.79 L885.37,341.79 L886.00,341.79 L886.62,341.79 L887.25,341.79 L887.87,341.79 L888.50,341.79 L889.12,341.79 L889.75,341.79 L890.37,341.79 L891.00,341.79 L891.62,341.79 L892.25,341.79 L892.87,341.79 L893.50,341.79 L894.12,341.79 L894.75,341.79 L895.37,341.79 L896.00,341.79 L896.62,341.79 L897.25,341.79 L897.87,341.79 L898.50,341.79 L899.12,341.79 L899.75,341.79 L900.37,341.79 L901.00,341.79 L901.62,341.79 L902.25,341.79 L902.87,341.79 L903.50,341.79 L904.12,341.79 L904.75,341.79 L905.37,341.79 L906.00,341.79 L906.62,341.79 L907.25,341.79 L907.87,341.79 L908.50,341.79 L909.12,341.79 L909.75,341.79 L910.37,341.79 L911.00,341.79 L911.62,341.79 L912.25,341.79 L912.87,341.79 L913.50,341.79 L914.12,341.79 L914.75,341.79 L915.37,341.79 L916.00,341.79 L916.62,341.79 L917.25,341.79 L917.87,341.79 L918.50,341.79 L919.12,341.79 L919.75,341.79 L920.37,341.79 L921.00,341.79 L921.62,341.79 L922.25,341.79 L922.87,341.79 L923.50,341.79 L924.12,341.79 L924.75,341.79 L925.37,341.79 L926.00,341.79 L926.62,341.79 L927.25,341.79 L927.87,341.79 L928.50,341.79 L929.12,341.79 L929.75,341.79 L930.37,341.79 L931.00,341.79 L931.62,341.79 L932.25,341.79 L932.87,341.79 L933.50,341.79 L934.12,341.79 L934.75,341.79 L935.37,341.79 L936.00,341.79 L936.62,341.79 L937.25,341.79 L937.87,341.79 L938.50,341.79 L939.12,341.79 L939.75,341.79 L940.37,341.79 L941.00,341.79 L941.62,341.79 L942.25,341.79 L942.87,341.79 L943.50,341.79 L944.12,341.79 L944.75,341.79 L945.37,341.79 L946.00,341.79 L946.62,341.79 L947.25,341.79 L947.87,341.79 L948.50,341.79 L949.12,341.79 L949.75,341.79 L950.37,341.79 L951.00,341.79 L951.62,341.79 L952.25,341.79 L952.87,341.79 L953.50,341.79 L954.12,341.79 L954.75,341.79 L955.37,341.79 L956.00,341.79 L956.62,341.79 L957.25,341.78 L957.87,341.78 L958.50,341.78 L959.12,341.78 L959.75,341.78 L960.37,341.78 L961.00,341.78 L961.62,341.78 L962.25,341.78 L962.87,341.78 L963.50,341.78 L964.12,341.78 L964.75,341.78 L965.37,341.78 L966.00,341.78 L966.62,341.78 L967.25,341.78 L967.87,341.78 L968.50,341.78 L969.12,341.78 L969.75,341.78 L970.37,341.78 L971.00,341.78 L971.62,341.78 L972.25,341.78 L972.87,341.78 L973.50,341.78 L974.12,341.78 L974.75,341.78 L975.37,341.78 L976.00,341.78 L976.62,341.78 L977.25,341.78 L977.87,341.78 L978.50,341.78 L979.12,341.78 L979.75,341.78 L980.37,341.78 L981.00,341.78 L981.62,341.78 L982.25,341.78 L982.87,341.78 L983.50,341.78 L984.12,341.78 L984.75,341.78 L985.37,341.78 L986.00,341.78 L986.62,341.78 L987.25,341.78 L987.87,341.78 L988.50,341.78 L989.12,341.78 L989.75,341.78 L990.37,341.78 L991.00,341.78 L991.62,341.78 L992.25,341.78 L992.87,341.78 L993.50,341.78 L994.12,341.78 L994.75,341.78 L995.37,341.78 L996.00,341.78 L996.62,341.78 L997.25,341.78 L997.87,341.78 L998.50,341.78 L999.12,341.78 L999.75,341.78 L1000.37,341.78 L1001.00,341.78 L1001.62,341.78 L1002.25,341.78 L1002.87,341.78 L1003.50,341.78 L1004.12,341.78 L1004.75,341.78 L1005.37,341.78 L1006.00,341.78 L1006.62,341.78 L1007.25,341.78 L1007.87,341.78 L1008.50,341.78 L1009.12,341.78 L1009.75,341.78 L1010.37,341.78 L1011.00,341.78 L1011.62,341.78 L1012.25,341.78 L1012.87,341.78 L1013.50,341.78 L1014.12,341.78 L1014.75,341.78 L1015.37,341.78 L1016.00,341.78 L1016.62,341.78 L1017.25,341.78 L1017.87,341.78 L1018.50,341.77 L1019.12,341.77 L1019.75,341.77 L1020.37,341.77 L1021.00,341.77 L1021.62,341.77 L1022.25,341.77 L1022.87,341.77 L1023.50,341.77 L1024.12,341.77 L1024.75,341.77 L1025.37,341.77 L1026.00,341.77 L1026.62,341.77 L1027.25,341.77 L1027.87,341.77 L1028.50,341.77 L1029.12,341.77 L1029.75,341.77 L1030.37,341.77 L1031.00,341.77 L1031.62,341.77 L1032.25,341.77 L1032.87,341.77 L1033.50,341.77 L1034.12,341.77 L1034.75,341.77 L1035.37,341.77 L1036.00,341.77 L1036.62,341.77 L1037.25,341.77 L1037.87,341.77 L1038.50,341.77 L1039.12,341.77 L1039.75,341.77 L1040.37,341.77 L1041.00,341.77 L1041.62,341.76 L1042.25,341.76 L1042.87,341.76 L1043.50,341.76 L1044.12,341.76 L1044.75,341.76 L1045.37,341.76 L1046.00,341.76 L1046.62,341.76 L1047.25,341.76 L1047.87,341.76 L1048.50,341.76 L1049.12,341.76 L1049.75,341.76 L1050.37,341.76 L1051.00,341.76 L1051.62,341.76 L1052.25,341.76 L1052.87,341.75 L1053.50,341.75 L1054.12,341.75 L1054.75,341.75 L1055.37,341.75 L1056.00,341.75 L1056.62,341.75 L1057.25,341.75 L1057.87,341.75 L1058.50,341.75 L1059.12,341.74 L1059.75,341.74 L1060.37,341.74 L1061.00,341.74 L1061.62,341.74 L1062.25,341.74 L1062.87,341.73 L1063.50,341.73 L1064.12,341.73 L1064.75,341.73 L1065.37,341.73 L1066.00,341.72 L1066.62,341.72 L1067.25,341.72 L1067.87,341.71 L1068.50,341.71 L1069.12,341.70 L1069.75,341.70 L1070.37,341.69 L1071.00,341.69 L1071.62,341.68 L1072.25,341.67 L1072.87,341.66 L1073.50,341.65 L1074.12,341.64 L1074.75,341.62 L1075.37,341.60 L1076.00,341.58 L1076.62,341.54 L1077.25,341.49 L1077.87,341.42 L1078.50,341.32 L1079.12,341.14 L1079.50,340.97 L1079.75,340.82 L1080.00,340.61 L1080.37,340.16 L1080.50,339.97 L1080.90,339.19 L1081.00,338.97 L1081.20,338.58 L1081.35,338.38 L1081.50,338.30 L1081.62,338.35 L1081.65,338.37 L1081.80,338.56 L1082.10,339.15 L1082.25,339.45 L1082.50,339.90 L1082.87,340.39 L1083.00,340.51 L1083.50,340.83 L1084.12,341.03 L1084.50,341.09 L1084.75,341.11 L1085.37,341.13 L1086.00,341.10 L1086.62,341.04 L1087.25,340.93 L1087.87,340.76 L1088.00,340.72 L1088.50,340.51 L1089.12,340.13 L1089.25,340.03 L1089.75,339.51 L1089.88,339.34 L1090.37,338.45 L1090.50,338.14 L1091.00,336.41 L1091.38,334.20 L1091.56,332.56 L1091.62,331.90 L1091.75,330.34 L1091.94,327.18 L1092.12,322.47 L1092.25,317.92 L1092.35,313.01 L1092.50,302.30 L1092.65,284.76 L1092.80,254.30 L1092.87,230.93 L1092.95,199.86 L1093.00,174.33 L1093.07,133.24 L1093.16,81.67 L1093.20,64.52 L1093.25,58.30 L1093.29,64.54 L1093.34,81.70 L1093.43,133.30 L1093.50,174.42 L1093.55,199.96 L1093.62,231.06 L1093.70,254.45 L1093.85,284.96 L1094.12,311.84 L1094.15,313.31 L1094.25,318.26 L1094.75,330.78 L1095.37,336.16 L1095.50,336.75 L1096.00,338.37 L1096.62,339.50 L1097.25,340.14 L1097.87,340.54 L1098.50,340.81 L1099.12,341.00 L1099.75,341.14 L1100.37,341.24 L1101.00,341.32 L1101.62,341.38 L1102.25,341.43 L1102.87,341.47 L1103.50,341.50 L1104.12,341.53 L1104.75,341.55 L1105.37,341.57 L1106.00,341.59 L1106.62,341.60 L1107.25,341.62 L1107.87,341.63 L1108.50,341.64 L1109.12,341.65 L1109.75,341.65 L1110.37,341.66 L1111.00,341.67 L1111.62,341.67 L1112.25,341.67 L1112.87,341.68 L1113.50,341.68 L1114.12,341.69 L1114.75,341.69 L1115.37,341.69 L1116.00,341.69 L1116.62,341.70 L1117.25,341.70 L1117.87,341.70 L1118.50,341.70 L1119.12,341.70 L1119.75,341.70 L1120.37,341.70 L1121.00,341.70 L1121.62,341.70 L1122.25,341.70 L1122.87,341.70 L1123.50,341.70 L1124.12,341.70 L1124.75,341.70 L1125.37,341.70 L1126.00,341.70 L1126.62,341.70 L1127.25,341.70 L1127.87,341.69 L1128.50,341.69 L1129.12,341.69 L1129.75,341.68 L1130.37,341.68 L1131.00,341.67 L1131.62,341.66 L1132.25,341.65 L1132.87,341.64 L1133.50,341.63 L1134.12,341.61 L1134.75,341.58 L1135.37,341.55 L1136.00,341.51 L1136.25,341.48 L1136.62,341.44 L1137.25,341.35 L1137.75,341.24 L1137.87,341.21 L1138.50,340.98 L1139.12,340.61 L1139.25,340.51 L1139.75,340.05 L1139.85,339.94 L1140.30,339.50 L1140.37,339.44 L1140.52,339.35 L1140.75,339.30 L1140.97,339.35 L1141.00,339.37 L1141.20,339.50 L1141.62,339.92 L1141.65,339.94 L1142.25,340.51 L1142.87,340.92 L1143.00,340.98 L1143.50,341.17 L1143.75,341.24 L1144.12,341.32 L1144.75,341.42 L1145.25,341.48 L1145.37,341.49 L1146.00,341.54 L1146.62,341.57 L1147.25,341.60 L1147.87,341.62 L1148.50,341.63 L1149.12,341.64 L1149.75,341.65 L1150.37,341.66 L1151.00,341.67 L1151.62,341.67 L1152.25,341.68 L1152.87,341.68 L1153.50,341.68 L1154.12,341.68 L1154.75,341.68 L1155.37,341.69 L1156.00,341.69 L1156.62,341.69 L1157.25,341.69 L1157.87,341.69 L1158.50,341.69 L1159.12,341.69 L1159.75,341.69 L1160.37,341.69 L1161.00,341.68 L1161.62,341.68 L1162.25,341.68 L1162.87,341.68 L1163.50,341.68 L1164.12,341.68 L1164.75,341.67 L1165.37,341.67 L1166.00,341.67 L1166.62,341.67 L1167.25,341.66 L1167.87,341.66 L1168.50,341.65 L1169.12,341.65 L1169.75,341.64 L1170.37,341.64 L1171.00,341.63 L1171.62,341.62 L1172.25,341.62 L1172.87,341.60 L1173.50,341.59 L1174.12,341.58 L1174.75,341.56 L1175.00,341.56 L1175.37,341.54 L1176.00,341.52 L1176.62,341.49 L1177.25,341.46 L1177.75,341.43 L1177.87,341.42 L1178.50,341.36 L1179.12,341.30 L1179.75,341.20 L1180.25,341.11 L1180.37,341.08 L1180.75,340.98 L1181.00,340.90 L1181.62,340.64 L1181.75,340.58 L1182.00,340.43 L1182.25,340.26 L1182.55,340.00 L1182.87,339.64 L1183.00,339.47 L1183.15,339.25 L1183.40,338.79 L1183.45,338.68 L1183.50,338.57 L1183.75,337.88 L1184.05,336.69 L1184.12,336.30 L1184.35,334.81 L1184.45,333.97 L1184.50,333.51 L1184.75,330.73 L1184.80,330.10 L1184.95,328.27 L1184.97,327.99 L1185.02,327.48 L1185.14,326.61 L1185.25,326.30 L1185.36,326.64 L1185.37,326.71 L1185.47,327.53 L1185.50,327.79 L1185.70,330.22 L1185.75,330.86 L1186.00,333.70 L1186.03,333.94 L1186.38,336.56 L1186.55,337.43 L1186.62,337.74 L1186.75,338.18 L1187.25,339.37 L1187.50,339.75 L1187.60,339.87 L1187.75,340.04 L1187.87,340.16 L1188.50,340.59 L1189.00,340.82 L1189.12,340.86 L1189.75,341.05 L1190.37,341.17 L1190.75,341.23 L1191.00,341.27 L1191.62,341.34 L1192.25,341.39 L1192.50,341.41 L1192.87,341.43 L1193.50,341.47 L1194.12,341.49 L1194.75,341.51 L1195.37,341.53 L1196.00,341.55 L1196.62,341.56 L1197.25,341.57 L1197.87,341.58 L1198.50,341.59 L1199.12,341.59 L1199.75,341.60 L1200.37,341.60 L1201.00,341.61 L1201.62,341.61 L1202.25,341.61 L1202.87,341.62 L1203.50,341.62 L1204.12,341.62 L1204.75,341.62 L1205.37,341.62 L1206.00,341.62 L1206.62,341.62 L1207.25,341.62 L1207.87,341.62 L1208.50,341.62 L1209.12,341.62 L1209.75,341.62 L1210.37,341.62 L1211.00,341.62 L1211.62,341.62 L1212.25,341.62 L1212.87,341.62 L1213.50,341.62 L1214.12,341.62 L1214.75,341.62 L1215.00,341.62 L1215.37,341.62 L1216.00,341.61 L1216.62,341.61 L1217.25,341.61 L1217.87,341.61 L1218.50,341.61 L1219.12,341.61 L1219.75,341.60 L1220.37,341.60 L1221.00,341.60 L1221.62,341.60 L1222.25,341.59 L1222.87,341.59 L1223.50,341.59 L1224.12,341.59 L1224.75,341.58 L1225.37,341.58 L1226.00,341.58 L1226.62,341.58 L1227.25,341.57 L1227.87,341.57 L1228.50,341.57 L1229.12,341.56 L1229.75,341.56 L1230.37,341.56 L1231.00,341.55 L1231.62,341.55 L1232.25,341.55 L1232.87,341.54 L1233.50,341.54 L1234.12,341.53 L1234.75,341.53 L1235.37,341.52 L1236.00,341.52 L1236.62,341.52 L1237.25,341.51 L1237.87,341.51 L1238.50,341.50 L1239.12,341.49 L1239.75,341.49 L1240.37,341.48 L1241.00,341.48 L1241.62,341.47 L1242.25,341.46 L1242.87,341.46 L1243.50,341.45 L1244.12,341.44 L1244.75,341.43 L1245.37,341.43 L1246.00,341.42 L1246.62,341.41 L1247.25,341.40 L1247.87,341.39 L1248.50,341.38 L1249.12,341.37 L1249.75,341.35 L1250.00,341.35 L1250.37,341.34 L1251.00,341.33 L1251.62,341.31 L1252.25,341.30 L1252.87,341.28 L1253.50,341.26 L1254.12,341.24 L1254.75,341.22 L1255.37,341.20 L1256.00,341.17 L1256.62,341.14 L1257.25,341.10 L1257.87,341.05 L1258.50,341.00 L1259.12,340.92 L1259.75,340.82 L1260.37,340.66 L1261.00,340.41 L1261.62,339.92 L1262.25,338.77 L1262.85,335.10 L1262.87,334.80 L1263.15,329.17 L1263.30,322.79 L1263.45,311.40 L1263.50,306.07 L1263.57,297.47 L1263.66,286.69 L1263.70,283.10 L1263.75,281.80 L1263.79,283.10 L1263.84,286.68 L1263.93,297.45 L1264.05,311.37 L1264.12,317.86 L1264.20,322.74 L1264.35,329.11 L1264.65,335.01 L1264.75,336.03 L1265.37,338.93 L1266.00,339.81 L1266.62,340.16 L1267.25,340.31 L1267.50,340.35 L1267.87,340.38 L1268.50,340.40 L1269.12,340.38 L1269.75,340.35 L1270.37,340.29 L1271.00,340.22 L1271.62,340.14 L1272.25,340.04 L1272.87,339.93 L1273.50,339.79 L1274.12,339.64 L1274.75,339.45 L1275.37,339.24 L1276.00,338.99 L1276.62,338.70 L1277.25,338.35 L1277.87,337.93 L1278.50,337.42 L1279.00,336.93 L1279.12,336.80 L1279.75,336.02 L1280.37,335.04 L1281.00,333.78 L1281.50,332.51 L1281.62,332.15 L1282.25,330.00 L1282.75,327.77 L1282.87,327.12 L1283.50,323.27 L1284.00,319.30 L1284.12,318.17 L1284.75,311.77 L1285.00,308.95 L1285.37,304.72 L1285.75,300.94 L1286.00,299.00 L1286.12,298.27 L1286.50,297.30 L1286.62,297.41 L1286.88,298.26 L1287.25,300.91 L1287.87,307.48 L1288.00,308.90 L1288.50,314.41 L1289.00,319.22 L1289.12,320.29 L1289.75,324.84 L1290.25,327.64 L1290.37,328.25 L1291.00,330.79 L1291.50,332.35 L1291.62,332.69 L1292.25,334.14 L1292.87,335.25 L1293.50,336.12 L1294.00,336.69 L1294.12,336.81 L1294.75,337.36 L1295.37,337.81 L1296.00,338.18 L1296.62,338.48 L1297.25,338.73 L1297.87,338.94 L1298.50,339.11 L1299.00,339.23 L1299.12,339.25 L1299.75,339.37 L1300.37,339.46 L1301.00,339.53 L1301.62,339.57 L1302.25,339.59 L1302.87,339.58 L1303.50,339.51 L1304.12,339.38 L1304.75,339.10 L1305.25,338.69 L1305.37,338.54 L1306.00,337.29 L1306.37,335.75 L1306.62,334.09 L1306.75,332.99 L1307.05,329.60 L1307.25,327.23 L1307.27,326.98 L1307.39,326.11 L1307.50,325.80 L1307.61,326.12 L1307.72,327.00 L1307.87,328.70 L1307.95,329.64 L1308.25,333.05 L1308.50,335.08 L1308.62,335.83 L1309.00,337.40 L1309.12,337.76 L1309.50,338.52 L1309.75,338.86 L1310.37,339.40 L1311.00,339.70 L1311.62,339.88 L1312.25,340.00 L1312.87,340.08 L1313.50,340.14 L1314.12,340.19 L1314.75,340.22 L1315.37,340.25 L1316.00,340.26 L1316.62,340.28 L1317.25,340.29 L1317.87,340.30 L1318.50,340.30 L1319.12,340.30 L1319.75,340.30 L1320.00,340.30 L1320.37,340.30 L1321.00,340.29 L1321.62,340.27 L1322.25,340.25 L1322.87,340.23 L1323.50,340.19 L1324.12,340.14 L1324.75,340.06 L1325.25,339.98 L1325.37,339.96 L1326.00,339.79 L1326.62,339.53 L1326.88,339.38 L1327.25,339.07 L1327.75,338.40 L1327.87,338.16 L1328.19,337.37 L1328.50,336.18 L1328.62,335.55 L1328.97,333.33 L1329.12,332.29 L1329.24,331.60 L1329.37,331.03 L1329.50,330.80 L1329.63,330.98 L1329.75,331.46 L1329.76,331.53 L1330.02,333.17 L1330.37,335.28 L1330.50,335.87 L1330.81,336.96 L1331.00,337.40 L1331.25,337.81 L1331.62,338.16 L1332.12,338.29 L1332.25,338.27 L1332.87,337.91 L1333.50,336.95 L1334.12,334.75 L1334.50,332.04 L1334.75,328.96 L1335.00,323.91 L1335.25,315.15 L1335.37,308.43 L1335.50,299.50 L1335.70,280.35 L1335.85,265.53 L1335.92,260.60 L1336.00,258.80 L1336.07,260.58 L1336.15,265.49 L1336.30,280.26 L1336.50,299.34 L1336.62,308.23 L1336.75,314.90 L1337.00,323.57 L1337.25,328.51 L1337.50,331.45 L1337.87,333.91 L1338.50,335.40 L1339.12,334.85 L1339.25,334.46 L1339.62,332.46 L1339.75,331.40 L1340.00,328.48 L1340.30,323.45 L1340.37,322.06 L1340.53,319.53 L1340.64,318.24 L1340.75,317.80 L1340.86,318.33 L1340.97,319.71 L1341.00,320.10 L1341.20,323.81 L1341.50,329.10 L1341.62,330.83 L1341.88,333.45 L1342.25,335.90 L1342.87,337.98 L1343.00,338.23 L1343.50,338.98 L1344.12,339.53 L1344.75,339.87 L1345.37,340.10 L1346.00,340.26 L1346.62,340.38 L1347.25,340.47 L1347.87,340.54 L1348.50,340.60 L1349.12,340.64 L1349.75,340.68 L1350.37,340.71 L1351.00,340.73 L1351.62,340.75 L1352.25,340.77 L1352.87,340.78 L1353.50,340.79 L1354.12,340.79 L1354.75,340.79 L1355.00,340.79 L1355.37,340.79 L1356.00,340.78 L1356.62,340.77 L1357.25,340.75 L1357.87,340.73 L1358.50,340.70 L1359.12,340.65 L1359.75,340.60 L1360.37,340.53 L1361.00,340.43 L1361.62,340.29 L1362.25,340.09 L1362.75,339.85 L1362.87,339.77 L1363.50,339.23 L1363.75,338.91 L1364.12,338.24 L1364.25,337.94 L1364.75,336.24 L1365.15,334.17 L1365.37,332.92 L1365.45,332.56 L1365.60,332.02 L1365.75,331.80 L1365.90,331.96 L1366.00,332.25 L1366.05,332.44 L1366.35,333.92 L1366.62,335.28 L1366.75,335.81 L1367.25,337.26 L1367.50,337.66 L1367.75,337.90 L1367.87,337.98 L1368.50,337.94 L1368.75,337.73 L1369.00,337.39 L1369.12,337.16 L1369.50,336.18 L1369.75,335.26 L1369.90,334.63 L1370.20,333.40 L1370.35,332.98 L1370.37,332.93 L1370.50,332.80 L1370.65,332.91 L1370.80,333.26 L1371.00,333.96 L1371.10,334.35 L1371.50,335.72 L1371.62,336.04 L1372.00,336.71 L1372.25,336.95 L1372.50,337.07 L1372.87,337.07 L1373.50,336.70 L1374.12,335.91 L1374.75,334.61 L1375.37,332.55 L1375.62,331.41 L1376.00,329.20 L1376.62,323.46 L1376.75,321.86 L1377.25,312.97 L1377.31,311.50 L1377.87,292.98 L1378.33,270.31 L1378.50,260.69 L1378.66,252.75 L1378.83,246.89 L1379.00,244.80 L1379.12,245.98 L1379.17,246.96 L1379.34,252.77 L1379.67,270.33 L1379.75,274.48 L1380.12,293.03 L1380.37,302.57 L1380.69,311.57 L1381.00,318.06 L1381.25,321.95 L1381.62,326.27 L1382.25,330.91 L1382.38,331.58 L1382.87,333.71 L1383.50,335.51 L1384.12,336.72 L1384.75,337.54 L1385.37,338.11 L1386.00,338.48 L1386.25,338.58 L1386.62,338.67 L1387.25,338.64 L1387.75,338.36 L1387.87,338.24 L1388.25,337.69 L1388.50,337.17 L1388.65,336.80 L1388.95,336.10 L1389.10,335.87 L1389.12,335.85 L1389.25,335.80 L1389.40,335.91 L1389.55,336.18 L1389.75,336.68 L1389.85,336.96 L1390.00,337.36 L1390.25,337.95 L1390.37,338.20 L1390.75,338.75 L1391.00,339.00 L1391.25,339.17 L1391.62,339.33 L1392.25,339.41 L1392.87,339.31 L1393.50,339.01 L1394.12,338.42 L1394.75,337.33 L1395.37,335.16 L1395.62,333.69 L1396.00,330.20 L1396.25,326.40 L1396.56,318.52 L1396.62,316.32 L1396.88,304.44 L1397.12,287.20 L1397.25,277.90 L1397.31,273.85 L1397.40,269.45 L1397.50,267.80 L1397.60,269.46 L1397.69,273.87 L1397.87,287.24 L1398.12,304.51 L1398.44,318.63 L1398.50,320.60 L1398.75,326.55 L1399.12,331.78 L1399.38,333.91 L1399.75,336.01 L1400.37,337.97 L1401.00,339.04 L1401.62,339.68 L1402.25,340.09 L1402.87,340.38 L1403.50,340.58 L1404.12,340.74 L1404.75,340.86 L1405.37,340.95 L1406.00,341.03 L1406.62,341.09 L1407.25,341.14 L1407.87,341.18 L1408.50,341.22 L1409.12,341.25 L1409.75,341.28 L1410.37,341.30 L1411.00,341.33 L1411.62,341.35 L1412.25,341.36 L1412.87,341.38 L1413.50,341.39 L1414.12,341.40 L1414.75,341.42 L1415.37,341.42 L1416.00,341.43 L1416.62,341.44 L1417.25,341.45 L1417.87,341.45 L1418.50,341.46 L1419.12,341.46 L1419.75,341.47 L1420.37,341.47 L1421.00,341.47 L1421.62,341.47 L1422.25,341.47 L1422.87,341.47 L1423.50,341.47 L1424.12,341.47 L1424.75,341.46 L1425.00,341.46 L1425.37,341.46 L1426.00,341.45 L1426.62,341.44 L1427.25,341.43 L1427.87,341.41 L1428.50,341.39 L1429.12,341.37 L1429.75,341.34 L1430.37,341.30 L1431.00,341.26 L1431.62,341.20 L1432.25,341.12 L1432.87,341.01 L1433.50,340.87 L1434.12,340.66 L1434.75,340.36 L1435.37,339.89 L1436.00,339.10 L1436.62,337.61 L1437.25,334.31 L1437.87,324.59 L1438.10,315.96 L1438.40,290.28 L1438.50,273.66 L1438.55,262.62 L1438.70,213.22 L1438.82,152.79 L1438.91,106.01 L1438.95,90.45 L1439.00,84.80 L1439.05,90.45 L1439.09,106.01 L1439.12,122.80 L1439.18,152.79 L1439.30,213.23 L1439.45,262.62 L1439.60,290.28 L1439.75,306.23 L1439.90,315.97 L1440.37,329.98 L1441.00,336.01 L1441.62,338.35 L1442.25,339.49 L1442.87,340.13 L1443.50,340.53 L1444.12,340.79 L1444.75,340.97 L1445.37,341.10 L1446.00,341.20 L1446.62,341.28 L1447.25,341.34 L1447.87,341.38 L1448.50,341.42 L1449.12,341.45 L1449.75,341.48 L1450.37,341.50 L1451.00,341.52 L1451.62,341.54 L1452.25,341.56 L1452.87,341.57 L1453.50,341.58 L1454.12,341.59 L1454.75,341.60 L1455.37,341.61 L1456.00,341.61 L1456.62,341.62 L1457.25,341.63 L1457.87,341.63 L1458.50,341.64 L1459.12,341.64 L1459.75,341.65 L1460.37,341.65 L1461.00,341.66 L1461.62,341.66 L1462.25,341.66 L1462.87,341.67 L1463.50,341.67 L1464.12,341.67 L1464.75,341.67 L1465.37,341.68 L1466.00,341.68 L1466.62,341.68 L1467.25,341.68 L1467.87,341.69 L1468.50,341.69 L1469.12,341.69 L1469.75,341.69 L1470.37,341.69 L1471.00,341.70 L1471.62,341.70 L1472.25,341.70 L1472.87,341.70 L1473.50,341.70 L1474.12,341.70 L1474.75,341.70 L1475.37,341.71 L1476.00,341.71 L1476.62,341.71 L1477.25,341.71 L1477.87,341.71 L1478.50,341.71 L1479.12,341.71 L1479.75,341.71 L1480.37,341.71 L1481.00,341.72 L1481.62,341.72 L1482.25,341.72 L1482.87,341.72 L1483.50,341.72 L1484.12,341.72 L1484.75,341.72 L1485.37,341.72 L1486.00,341.72 L1486.62,341.72 L1487.25,341.72 L1487.87,341.73 L1488.50,341.73 L1489.12,341.73 L1489.75,341.73 L1490.37,341.73 L1491.00,341.73 L1491.62,341.73 L1492.25,341.73 L1492.87,341.73 L1493.50,341.73 L1494.12,341.73 L1494.75,341.73 L1495.37,341.73 L1496.00,341.73 L1496.62,341.74 L1497.25,341.74 L1497.87,341.74 L1498.50,341.74 L1499.12,341.74 L1499.75,341.74 L1500.37,341.74 L1501.00,341.74 L1501.62,341.74 L1502.25,341.74 L1502.87,341.74 L1503.50,341.74 L1504.12,341.74 L1504.75,341.74 L1505.37,341.74 L1506.00,341.74 L1506.62,341.74 L1507.25,341.74 L1507.87,341.74 L1508.50,341.74 L1509.12,341.75 L1509.75,341.75 L1510.37,341.75 L1511.00,341.75 L1511.62,341.75 L1512.25,341.75 L1512.87,341.75 L1513.50,341.75 L1514.12,341.75 L1514.75,341.75 L1515.37,341.75 L1516.00,341.75 L1516.62,341.75 L1517.25,341.75 L1517.87,341.75 L1518.50,341.75 L1519.12,341.75 L1519.75,341.75 L1520.37,341.75 L1521.00,341.75 L1521.62,341.75 L1522.25,341.75 L1522.87,341.75 L1523.50,341.75 L1524.12,341.75 L1524.75,341.75 L1525.37,341.75 L1526.00,341.76 L1526.62,341.76 L1527.25,341.76 L1527.87,341.76 L1528.50,341.76 L1529.12,341.76 L1529.75,341.76 L1530.37,341.76 L1531.00,341.76 L1531.62,341.76 L1532.25,341.76 L1532.87,341.76 L1533.50,341.76 L1534.12,341.76 L1534.75,341.76 L1535.37,341.76 L1536.00,341.76 L1536.62,341.76 L1537.25,341.76 L1537.87,341.76 L1538.50,341.76 L1539.12,341.76 L1539.75,341.76 L1540.37,341.76 L1541.00,341.76 L1541.62,341.76 L1542.25,341.76 L1542.87,341.76 L1543.50,341.76 L1544.12,341.76 L1544.75,341.76 L1545.37,341.76 L1546.00,341.76 L1546.62,341.76 L1547.25,341.76 L1547.87,341.76 L1548.50,341.76 L1549.12,341.76 L1549.75,341.76 L1550.37,341.77 L1551.00,341.77 L1551.62,341.77 L1552.25,341.77 L1552.87,341.77 L1553.50,341.77 L1554.12,341.77 L1554.75,341.77 L1555.37,341.77 L1556.00,341.77 L1556.62,341.77 L1557.25,341.77 L1557.87,341.77 L1558.50,341.77 L1559.12,341.77 L1559.75,341.77 L1560.37,341.77 L1561.00,341.77 L1561.62,341.77 L1562.25,341.77 L1562.87,341.77 L1563.50,341.77 L1564.12,341.77 L1564.75,341.77 L1565.37,341.77 L1566.00,341.77 L1566.62,341.77 L1567.25,341.77 L1567.87,341.77 L1568.50,341.77 L1569.12,341.77 L1569.75,341.77 L1570.37,341.77 L1571.00,341.77 L1571.62,341.77 L1572.25,341.77 L1572.87,341.77 L1573.50,341.77 L1574.12,341.77 L1574.75,341.77 L1575.37,341.77 L1576.00,341.77 L1576.62,341.77 L1577.25,341.77 L1577.87,341.77 L1578.50,341.77 L1579.12,341.77 L1579.75,341.77 L1580.37,341.77 L1581.00,341.77 L1581.62,341.77 L1582.25,341.77 L1582.87,341.77 L1583.50,341.77 L1584.12,341.77 L1584.75,341.77 L1585.37,341.77 L1586.00,341.77 L1586.62,341.77 L1587.25,341.77 L1587.87,341.77 L1588.50,341.77 L1589.12,341.77 L1589.75,341.78 L1590.37,341.78 L1591.00,341.78 L1591.62,341.78 L1592.25,341.78 L1592.87,341.78 L1593.50,341.78 L1594.12,341.78 L1594.75,341.78 L1595.37,341.78 L1596.00,341.78 L1596.62,341.78 L1597.25,341.78 L1597.87,341.78 L1598.50,341.78 L1599.12,341.78 L1599.75,341.78 L1600.37,341.78 L1601.00,341.78 L1601.62,341.78 L1602.25,341.78 L1602.87,341.78 L1603.50,341.78 L1604.12,341.78 L1604.75,341.78 L1605.37,341.78 L1606.00,341.78 L1606.62,341.78 L1607.25,341.78 L1607.87,341.78 L1608.50,341.78 L1609.12,341.78 L1609.75,341.78 L1610.37,341.78 L1611.00,341.78 L1611.62,341.78 L1612.25,341.78 L1612.87,341.78 L1613.50,341.78 L1614.12,341.78 L1614.75,341.78 L1615.37,341.78 L1616.00,341.78 L1616.62,341.78 L1617.25,341.78 L1617.87,341.78 L1618.50,341.78 L1619.12,341.78 L1619.75,341.78 L1620.37,341.78 L1621.00,341.78 L1621.62,341.78 L1622.25,341.78 L1622.87,341.78 L1623.50,341.78 L1624.12,341.78 L1624.75,341.78" fill="none" stroke="#8a1212" stroke-width="1.7" stroke-linejoin="round" opacity="1"/></g><g transform="scale(0.5,1)"><line x1="875.00" y1="154.70" x2="902.21" y2="125.12" stroke="#505050" stroke-width="1.1"/></g><polygon points="453.40,120.12 453.01,125.99 449.20,124.24" fill="#1a1a1a"/><g transform="scale(0.5,1)"><line x1="865.00" y1="339.60" x2="853.86" y2="299.67" stroke="#505050" stroke-width="1.1"/></g><polygon points="426.17,294.22 429.01,299.38 424.85,299.96" fill="#1a1a1a"/><g transform="scale(0.5,1)"><line x1="885.80" y1="338.30" x2="889.27" y2="255.70" stroke="#505050" stroke-width="1.1"/></g><polygon points="444.75,250.20 446.73,255.74 442.54,255.66" fill="#1a1a1a"/><g transform="scale(0.5,1)"><line x1="948.60" y1="325.00" x2="948.95" y2="303.70" stroke="#505050" stroke-width="1.1"/></g><polygon points="474.52,298.20 476.57,303.72 472.37,303.68" fill="#1a1a1a"/><g transform="scale(0.5,1)"><line x1="1029.60" y1="299.40" x2="972.79" y2="205.27" stroke="#505050" stroke-width="1.1"/></g><polygon points="484.81,200.00 488.41,204.66 484.39,205.87" fill="#1a1a1a"/><g transform="scale(0.5,1)"><line x1="1046.00" y1="325.30" x2="1044.85" y2="257.00" stroke="#505050" stroke-width="1.1"/></g><polygon points="522.38,251.50 524.53,256.98 520.33,257.02" fill="#1a1a1a"/><g transform="scale(0.5,1)"><line x1="1072.80" y1="318.00" x2="1095.46" y2="188.09" stroke="#505050" stroke-width="1.1"/></g><polygon points="548.21,182.61 549.82,188.27 545.64,187.91" fill="#1a1a1a"/><g transform="scale(0.5,1)"><line x1="1103.60" y1="265.50" x2="1158.08" y2="214.44" stroke="#505050" stroke-width="1.1"/></g><polygon points="581.63,209.58 580.89,215.42 577.19,213.45" fill="#1a1a1a"/><g transform="scale(0.5,1)"><line x1="1119.00" y1="327.50" x2="1164.82" y2="289.16" stroke="#505050" stroke-width="1.1"/></g><polygon points="585.23,284.44 584.21,290.24 580.61,288.08" fill="#1a1a1a"/><g transform="scale(0.5,1)"><line x1="1152.00" y1="333.00" x2="1179.66" y2="316.19" stroke="#505050" stroke-width="1.1"/></g><polygon points="593.33,311.95 591.45,317.53 588.21,314.86" fill="#1a1a1a"/></g><g filter="url(#bt)"><rect width="685" height="385" fill="none"/><text x="304.6" y="40.7" font-family='"Liberation Sans", sans-serif' font-size="14.6" font-weight="normal" fill="#1c1c1c" stroke="#1c1c1c" stroke-width="0.3" text-anchor="start" textLength="30.6" lengthAdjust="spacingAndGlyphs">4E+08</text><text x="304.6" y="74.7" font-family='"Liberation Sans", sans-serif' font-size="14.6" font-weight="normal" fill="#1c1c1c" stroke="#1c1c1c" stroke-width="0.3" text-anchor="start" textLength="30.6" lengthAdjust="spacingAndGlyphs">4E+08</text><text x="304.6" y="108.8" font-family='"Liberation Sans", sans-serif' font-size="14.6" font-weight="normal" fill="#1c1c1c" stroke="#1c1c1c" stroke-width="0.3" text-anchor="start" textLength="30.6" lengthAdjust="spacingAndGlyphs">4E+08</text><text x="304.6" y="142.9" font-family='"Liberation Sans", sans-serif' font-size="14.6" font-weight="normal" fill="#1c1c1c" stroke="#1c1c1c" stroke-width="0.3" text-anchor="start" textLength="30.6" lengthAdjust="spacingAndGlyphs">3E+08</text><text x="304.6" y="177.0" font-family='"Liberation Sans", sans-serif' font-size="14.6" font-weight="normal" fill="#1c1c1c" stroke="#1c1c1c" stroke-width="0.3" text-anchor="start" textLength="30.6" lengthAdjust="spacingAndGlyphs">2E+08</text><text x="304.6" y="211.1" font-family='"Liberation Sans", sans-serif' font-size="14.6" font-weight="normal" fill="#1c1c1c" stroke="#1c1c1c" stroke-width="0.3" text-anchor="start" textLength="30.6" lengthAdjust="spacingAndGlyphs">2E+08</text><text x="304.6" y="245.1" font-family='"Liberation Sans", sans-serif' font-size="14.6" font-weight="normal" fill="#1c1c1c" stroke="#1c1c1c" stroke-width="0.3" text-anchor="start" textLength="30.6" lengthAdjust="spacingAndGlyphs">2E+08</text><text x="304.6" y="279.2" font-family='"Liberation Sans", sans-serif' font-size="14.6" font-weight="normal" fill="#1c1c1c" stroke="#1c1c1c" stroke-width="0.3" text-anchor="start" textLength="30.6" lengthAdjust="spacingAndGlyphs">1E+08</text><text x="304.6" y="313.3" font-family='"Liberation Sans", sans-serif' font-size="14.6" font-weight="normal" fill="#1c1c1c" stroke="#1c1c1c" stroke-width="0.3" text-anchor="start" textLength="30.6" lengthAdjust="spacingAndGlyphs">5E+07</text><text x="304.6" y="347.4" font-family='"Liberation Sans", sans-serif' font-size="14.6" font-weight="normal" fill="#1c1c1c" stroke="#1c1c1c" stroke-width="0.3" text-anchor="start" textLength="6.0" lengthAdjust="spacingAndGlyphs">0</text><text x="14.1" y="365.9" font-family='"Liberation Sans", sans-serif' font-size="15.3" font-weight="normal" fill="#1c1c1c" stroke="#1c1c1c" stroke-width="0.55" text-anchor="start" textLength="10.0" lengthAdjust="spacingAndGlyphs">11</text><text x="53.3" y="365.9" font-family='"Liberation Sans", sans-serif' font-size="15.3" font-weight="normal" fill="#1c1c1c" stroke="#1c1c1c" stroke-width="0.55" text-anchor="start" textLength="6.0" lengthAdjust="spacingAndGlyphs">9</text><text x="71.9" y="365.9" font-family='"Liberation Sans", sans-serif' font-size="15.3" font-weight="normal" fill="#1c1c1c" stroke="#1c1c1c" stroke-width="0.55" text-anchor="start" textLength="6.0" lengthAdjust="spacingAndGlyphs">8</text><text x="90.4" y="365.9" font-family='"Liberation Sans", sans-serif' font-size="15.3" font-weight="normal" fill="#1c1c1c" stroke="#1c1c1c" stroke-width="0.55" text-anchor="start" textLength="6.0" lengthAdjust="spacingAndGlyphs">7</text><text x="109.0" y="365.9" font-family='"Liberation Sans", sans-serif' font-size="15.3" font-weight="normal" fill="#1c1c1c" stroke="#1c1c1c" stroke-width="0.55" text-anchor="start" textLength="6.0" lengthAdjust="spacingAndGlyphs">6</text><text x="127.6" y="365.9" font-family='"Liberation Sans", sans-serif' font-size="15.3" font-weight="normal" fill="#1c1c1c" stroke="#1c1c1c" stroke-width="0.55" text-anchor="start" textLength="6.0" lengthAdjust="spacingAndGlyphs">5</text><text x="146.2" y="365.9" font-family='"Liberation Sans", sans-serif' font-size="15.3" font-weight="normal" fill="#1c1c1c" stroke="#1c1c1c" stroke-width="0.55" text-anchor="start" textLength="6.0" lengthAdjust="spacingAndGlyphs">4</text><text x="164.8" y="365.9" font-family='"Liberation Sans", sans-serif' font-size="15.3" font-weight="normal" fill="#1c1c1c" stroke="#1c1c1c" stroke-width="0.55" text-anchor="start" textLength="6.0" lengthAdjust="spacingAndGlyphs">3</text><text x="183.4" y="365.9" font-family='"Liberation Sans", sans-serif' font-size="15.3" font-weight="normal" fill="#1c1c1c" stroke="#1c1c1c" stroke-width="0.55" text-anchor="start" textLength="6.0" lengthAdjust="spacingAndGlyphs">2</text><text x="202.3" y="365.9" font-family='"Liberation Sans", sans-serif' font-size="15.3" font-weight="normal" fill="#1c1c1c" stroke="#1c1c1c" stroke-width="0.55" text-anchor="start" textLength="5.3" lengthAdjust="spacingAndGlyphs">1</text><text x="220.6" y="365.9" font-family='"Liberation Sans", sans-serif' font-size="15.3" font-weight="normal" fill="#1c1c1c" stroke="#1c1c1c" stroke-width="0.55" text-anchor="start" textLength="6.0" lengthAdjust="spacingAndGlyphs">0</text><text x="237.5" y="365.9" font-family='"Liberation Sans", sans-serif' font-size="15.3" font-weight="normal" fill="#1c1c1c" stroke="#1c1c1c" stroke-width="0.55" text-anchor="start" textLength="8.9" lengthAdjust="spacingAndGlyphs">-1</text><text x="274.4" y="365.9" font-family='"Liberation Sans", sans-serif' font-size="15.3" font-weight="normal" fill="#1c1c1c" stroke="#1c1c1c" stroke-width="0.55" text-anchor="start" textLength="9.4" lengthAdjust="spacingAndGlyphs">-3</text><text x="89.0" y="380.1" font-family='"Liberation Sans", sans-serif' font-size="13.5" font-weight="normal" fill="#1c1c1c" stroke="#1c1c1c" stroke-width="0.5" text-anchor="start" textLength="40.7" lengthAdjust="spacingAndGlyphs">f1 (ppm)</text><text x="167.7" y="54.0" font-family='"Liberation Sans", sans-serif' font-size="17" font-weight="normal" fill="#1c1c1c" stroke="#1c1c1c" stroke-width="0.38" text-anchor="start" textLength="24.2" lengthAdjust="spacingAndGlyphs">CCO</text><text x="105.3" y="129.5" font-family='"Liberation Sans", sans-serif' font-size="10.5" font-weight="normal" fill="#1c1c1c" stroke="#1c1c1c" stroke-width="0.38" text-anchor="start" textLength="78.8" lengthAdjust="spacingAndGlyphs">Triglyceride backbone</text><text x="105.3" y="142.9" font-family='"Liberation Sans", sans-serif' font-size="10.5" font-weight="normal" fill="#1c1c1c" stroke="#1c1c1c" stroke-width="0.38" text-anchor="start" textLength="26.9" lengthAdjust="spacingAndGlyphs">protons</text><text x="76.5" y="173.4" font-family='"Liberation Sans", sans-serif' font-size="10.5" font-weight="normal" fill="#1c1c1c" stroke="#1c1c1c" stroke-width="0.38" text-anchor="start" textLength="47.0" lengthAdjust="spacingAndGlyphs">Solvent peak</text><text x="76.9" y="186.5" font-family='"Liberation Sans", sans-serif' font-size="10.5" font-weight="normal" fill="#1c1c1c" stroke="#1c1c1c" stroke-width="0.38" text-anchor="start" textLength="47.0" lengthAdjust="spacingAndGlyphs">(Chloroform)</text><text x="168.6" y="169.5" font-family='"Liberation Sans", sans-serif' font-size="10.5" font-weight="normal" fill="#1c1c1c" stroke="#1c1c1c" stroke-width="0.38" text-anchor="start" textLength="23.7" lengthAdjust="spacingAndGlyphs">Vinylic</text><text x="169.1" y="182.3" font-family='"Liberation Sans", sans-serif' font-size="10.5" font-weight="normal" fill="#1c1c1c" stroke="#1c1c1c" stroke-width="0.38" text-anchor="start" textLength="27.7" lengthAdjust="spacingAndGlyphs">protons</text><text x="227.9" y="171.3" font-family='"Liberation Sans", sans-serif' font-size="10.5" font-weight="normal" fill="#1c1c1c" stroke="#1c1c1c" stroke-width="0.38" text-anchor="start" textLength="67.1" lengthAdjust="spacingAndGlyphs">Methylene protons</text><text x="97.9" y="228.8" font-family='"Liberation Sans", sans-serif' font-size="10.5" font-weight="normal" fill="#1c1c1c" stroke="#1c1c1c" stroke-width="0.38" text-anchor="start" textLength="46.7" lengthAdjust="spacingAndGlyphs">Unsaturation</text><text x="97.9" y="242.0" font-family='"Liberation Sans", sans-serif' font-size="10.5" font-weight="normal" fill="#1c1c1c" stroke="#1c1c1c" stroke-width="0.38" text-anchor="start" textLength="27.6" lengthAdjust="spacingAndGlyphs">protons</text><text x="151.8" y="228.8" font-family='"Liberation Sans", sans-serif' font-size="10.5" font-weight="normal" fill="#1c1c1c" stroke="#1c1c1c" stroke-width="0.38" text-anchor="start" textLength="18.4" lengthAdjust="spacingAndGlyphs">Ester</text><text x="151.8" y="242.0" font-family='"Liberation Sans", sans-serif' font-size="10.5" font-weight="normal" fill="#1c1c1c" stroke="#1c1c1c" stroke-width="0.38" text-anchor="start" textLength="28.3" lengthAdjust="spacingAndGlyphs">protons</text><text x="234.1" y="248.6" font-family='"Liberation Sans", sans-serif' font-size="10.5" font-weight="normal" fill="#1c1c1c" stroke="#1c1c1c" stroke-width="0.38" text-anchor="start" textLength="53.7" lengthAdjust="spacingAndGlyphs">Methyl protons</text><text x="248.6" y="304.7" font-family='"Liberation Sans", sans-serif' font-size="10.5" font-weight="normal" fill="#1c1c1c" stroke="#1c1c1c" stroke-width="0.38" text-anchor="start" textLength="15.6" lengthAdjust="spacingAndGlyphs">TMS</text><text x="653.3" y="346.7" font-family='"Liberation Sans", sans-serif' font-size="14.6" font-weight="normal" fill="#1c1c1c" stroke="#1c1c1c" stroke-width="0.3" text-anchor="start" textLength="6.0" lengthAdjust="spacingAndGlyphs">0</text><text x="653.3" y="326.0" font-family='"Liberation Sans", sans-serif' font-size="14.6" font-weight="normal" fill="#1c1c1c" stroke="#1c1c1c" stroke-width="0.3" text-anchor="start" textLength="29.8" lengthAdjust="spacingAndGlyphs">2E+07</text><text x="653.3" y="305.3" font-family='"Liberation Sans", sans-serif' font-size="14.6" font-weight="normal" fill="#1c1c1c" stroke="#1c1c1c" stroke-width="0.3" text-anchor="start" textLength="29.8" lengthAdjust="spacingAndGlyphs">4E+07</text><text x="653.3" y="284.6" font-family='"Liberation Sans", sans-serif' font-size="14.6" font-weight="normal" fill="#1c1c1c" stroke="#1c1c1c" stroke-width="0.3" text-anchor="start" textLength="29.8" lengthAdjust="spacingAndGlyphs">6E+07</text><text x="653.3" y="264.0" font-family='"Liberation Sans", sans-serif' font-size="14.6" font-weight="normal" fill="#1c1c1c" stroke="#1c1c1c" stroke-width="0.3" text-anchor="start" textLength="29.8" lengthAdjust="spacingAndGlyphs">8E+07</text><text x="653.3" y="243.3" font-family='"Liberation Sans", sans-serif' font-size="14.6" font-weight="normal" fill="#1c1c1c" stroke="#1c1c1c" stroke-width="0.3" text-anchor="start" textLength="29.8" lengthAdjust="spacingAndGlyphs">1E+08</text><text x="653.3" y="222.6" font-family='"Liberation Sans", sans-serif' font-size="14.6" font-weight="normal" fill="#1c1c1c" stroke="#1c1c1c" stroke-width="0.3" text-anchor="start" textLength="29.8" lengthAdjust="spacingAndGlyphs">1E+08</text><text x="653.3" y="201.9" font-family='"Liberation Sans", sans-serif' font-size="14.6" font-weight="normal" fill="#1c1c1c" stroke="#1c1c1c" stroke-width="0.3" text-anchor="start" textLength="29.8" lengthAdjust="spacingAndGlyphs">1E+08</text><text x="653.3" y="181.2" font-family='"Liberation Sans", sans-serif' font-size="14.6" font-weight="normal" fill="#1c1c1c" stroke="#1c1c1c" stroke-width="0.3" text-anchor="start" textLength="29.8" lengthAdjust="spacingAndGlyphs">2E+08</text><text x="653.3" y="160.6" font-family='"Liberation Sans", sans-serif' font-size="14.6" font-weight="normal" fill="#1c1c1c" stroke="#1c1c1c" stroke-width="0.3" text-anchor="start" textLength="29.8" lengthAdjust="spacingAndGlyphs">2E+08</text><text x="653.3" y="139.9" font-family='"Liberation Sans", sans-serif' font-size="14.6" font-weight="normal" fill="#1c1c1c" stroke="#1c1c1c" stroke-width="0.3" text-anchor="start" textLength="29.8" lengthAdjust="spacingAndGlyphs">2E+08</text><text x="653.3" y="119.2" font-family='"Liberation Sans", sans-serif' font-size="14.6" font-weight="normal" fill="#1c1c1c" stroke="#1c1c1c" stroke-width="0.3" text-anchor="start" textLength="29.8" lengthAdjust="spacingAndGlyphs">2E+08</text><text x="653.3" y="98.5" font-family='"Liberation Sans", sans-serif' font-size="14.6" font-weight="normal" fill="#1c1c1c" stroke="#1c1c1c" stroke-width="0.3" text-anchor="start" textLength="29.8" lengthAdjust="spacingAndGlyphs">2E+08</text><text x="653.3" y="77.8" font-family='"Liberation Sans", sans-serif' font-size="14.6" font-weight="normal" fill="#1c1c1c" stroke="#1c1c1c" stroke-width="0.3" text-anchor="start" textLength="29.8" lengthAdjust="spacingAndGlyphs">3E+08</text><text x="653.3" y="57.2" font-family='"Liberation Sans", sans-serif' font-size="14.6" font-weight="normal" fill="#1c1c1c" stroke="#1c1c1c" stroke-width="0.3" text-anchor="start" textLength="29.8" lengthAdjust="spacingAndGlyphs">3E+08</text><text x="653.3" y="36.5" font-family='"Liberation Sans", sans-serif' font-size="14.6" font-weight="normal" fill="#1c1c1c" stroke="#1c1c1c" stroke-width="0.3" text-anchor="start" textLength="29.8" lengthAdjust="spacingAndGlyphs">3E+08</text><text x="653.3" y="15.8" font-family='"Liberation Sans", sans-serif' font-size="14.6" font-weight="normal" fill="#1c1c1c" stroke="#1c1c1c" stroke-width="0.3" text-anchor="start" textLength="29.8" lengthAdjust="spacingAndGlyphs">3E+08</text><text x="360.8" y="365.9" font-family='"Liberation Sans", sans-serif' font-size="15.3" font-weight="normal" fill="#1c1c1c" stroke="#1c1c1c" stroke-width="0.55" text-anchor="start" textLength="10.0" lengthAdjust="spacingAndGlyphs">11</text><text x="401.0" y="365.9" font-family='"Liberation Sans", sans-serif' font-size="15.3" font-weight="normal" fill="#1c1c1c" stroke="#1c1c1c" stroke-width="0.55" text-anchor="start" textLength="6.0" lengthAdjust="spacingAndGlyphs">9</text><text x="420.1" y="365.9" font-family='"Liberation Sans", sans-serif' font-size="15.3" font-weight="normal" fill="#1c1c1c" stroke="#1c1c1c" stroke-width="0.55" text-anchor="start" textLength="6.0" lengthAdjust="spacingAndGlyphs">8</text><text x="439.2" y="365.9" font-family='"Liberation Sans", sans-serif' font-size="15.3" font-weight="normal" fill="#1c1c1c" stroke="#1c1c1c" stroke-width="0.55" text-anchor="start" textLength="6.0" lengthAdjust="spacingAndGlyphs">7</text><text x="458.3" y="365.9" font-family='"Liberation Sans", sans-serif' font-size="15.3" font-weight="normal" fill="#1c1c1c" stroke="#1c1c1c" stroke-width="0.55" text-anchor="start" textLength="6.0" lengthAdjust="spacingAndGlyphs">6</text><text x="477.3" y="365.9" font-family='"Liberation Sans", sans-serif' font-size="15.3" font-weight="normal" fill="#1c1c1c" stroke="#1c1c1c" stroke-width="0.55" text-anchor="start" textLength="6.0" lengthAdjust="spacingAndGlyphs">5</text><text x="496.4" y="365.9" font-family='"Liberation Sans", sans-serif' font-size="15.3" font-weight="normal" fill="#1c1c1c" stroke="#1c1c1c" stroke-width="0.55" text-anchor="start" textLength="6.0" lengthAdjust="spacingAndGlyphs">4</text><text x="515.5" y="365.9" font-family='"Liberation Sans", sans-serif' font-size="15.3" font-weight="normal" fill="#1c1c1c" stroke="#1c1c1c" stroke-width="0.55" text-anchor="start" textLength="6.0" lengthAdjust="spacingAndGlyphs">3</text><text x="534.6" y="365.9" font-family='"Liberation Sans", sans-serif' font-size="15.3" font-weight="normal" fill="#1c1c1c" stroke="#1c1c1c" stroke-width="0.55" text-anchor="start" textLength="6.0" lengthAdjust="spacingAndGlyphs">2</text><text x="554.1" y="365.9" font-family='"Liberation Sans", sans-serif' font-size="15.3" font-weight="normal" fill="#1c1c1c" stroke="#1c1c1c" stroke-width="0.55" text-anchor="start" textLength="5.3" lengthAdjust="spacingAndGlyphs">1</text><text x="572.8" y="365.9" font-family='"Liberation Sans", sans-serif' font-size="15.3" font-weight="normal" fill="#1c1c1c" stroke="#1c1c1c" stroke-width="0.55" text-anchor="start" textLength="6.0" lengthAdjust="spacingAndGlyphs">0</text><text x="608.9" y="365.9" font-family='"Liberation Sans", sans-serif' font-size="15.3" font-weight="normal" fill="#1c1c1c" stroke="#1c1c1c" stroke-width="0.55" text-anchor="start" textLength="9.7" lengthAdjust="spacingAndGlyphs">-2</text><text x="438.3" y="379.8" font-family='"Liberation Sans", sans-serif' font-size="13.5" font-weight="normal" fill="#1c1c1c" stroke="#1c1c1c" stroke-width="0.5" text-anchor="start" textLength="40.3" lengthAdjust="spacingAndGlyphs">f1 (ppm)</text><text x="507.9" y="65.9" font-family='"Liberation Sans", sans-serif' font-size="14" font-weight="normal" fill="#1c1c1c" stroke="#1c1c1c" stroke-width="0.38" text-anchor="start" textLength="17.9" lengthAdjust="spacingAndGlyphs">FBA</text><text x="436.9" y="116.2" font-family='"Liberation Sans", sans-serif' font-size="10.5" font-weight="normal" fill="#1c1c1c" stroke="#1c1c1c" stroke-width="0.38" text-anchor="start" textLength="79.9" lengthAdjust="spacingAndGlyphs">Aromatic ring protons</text><text x="535.1" y="166.8" font-family='"Liberation Sans", sans-serif' font-size="10.5" font-weight="normal" fill="#1c1c1c" stroke="#1c1c1c" stroke-width="0.38" text-anchor="start" textLength="23.3" lengthAdjust="spacingAndGlyphs">Vinylic</text><text x="535.5" y="179.6" font-family='"Liberation Sans", sans-serif' font-size="10.5" font-weight="normal" fill="#1c1c1c" stroke="#1c1c1c" stroke-width="0.38" text-anchor="start" textLength="27.4" lengthAdjust="spacingAndGlyphs">protons</text><text x="450.7" y="196.2" font-family='"Liberation Sans", sans-serif' font-size="10.5" font-weight="normal" fill="#1c1c1c" stroke="#1c1c1c" stroke-width="0.38" text-anchor="start" textLength="63.1" lengthAdjust="spacingAndGlyphs">Carboxylic proton</text><text x="577.9" y="208.2" font-family='"Liberation Sans", sans-serif' font-size="10.5" font-weight="normal" fill="#1c1c1c" stroke="#1c1c1c" stroke-width="0.38" text-anchor="start" textLength="67.7" lengthAdjust="spacingAndGlyphs">Methylene protons</text><text x="438.1" y="232.1" font-family='"Liberation Sans", sans-serif' font-size="10.5" font-weight="normal" fill="#1c1c1c" stroke="#1c1c1c" stroke-width="0.38" text-anchor="start" textLength="46.6" lengthAdjust="spacingAndGlyphs">Solvent peak</text><text x="437.7" y="245.2" font-family='"Liberation Sans", sans-serif' font-size="10.5" font-weight="normal" fill="#1c1c1c" stroke="#1c1c1c" stroke-width="0.38" text-anchor="start" textLength="47.4" lengthAdjust="spacingAndGlyphs">(Chloroform)</text><text x="505.3" y="237.1" font-family='"Liberation Sans", sans-serif' font-size="10.5" fill="#1c1c1c" stroke="#1c1c1c" stroke-width="0.38" textLength="34.0" lengthAdjust="spacingAndGlyphs">CH<tspan font-size="7" dy="1.8">2</tspan><tspan dy="-1.8">-C=O</tspan></text><text x="506.0" y="249.5" font-family='"Liberation Sans", sans-serif' font-size="10.5" font-weight="normal" fill="#1c1c1c" stroke="#1c1c1c" stroke-width="0.38" text-anchor="start" textLength="27.3" lengthAdjust="spacingAndGlyphs">protons</text><text x="579.8" y="280.2" font-family='"Liberation Sans", sans-serif' font-size="10.5" font-weight="normal" fill="#1c1c1c" stroke="#1c1c1c" stroke-width="0.38" text-anchor="start" textLength="53.7" lengthAdjust="spacingAndGlyphs">Methyl protons</text><text x="452.7" y="282.6" font-family='"Liberation Sans", sans-serif' font-size="10.5" font-weight="normal" fill="#1c1c1c" stroke="#1c1c1c" stroke-width="0.38" text-anchor="start" textLength="45.7" lengthAdjust="spacingAndGlyphs">Unsaturation</text><text x="452.7" y="295.6" font-family='"Liberation Sans", sans-serif' font-size="10.5" font-weight="normal" fill="#1c1c1c" stroke="#1c1c1c" stroke-width="0.38" text-anchor="start" textLength="27.2" lengthAdjust="spacingAndGlyphs">protons</text><text x="385.7" y="291.1" font-family='"Liberation Sans", sans-serif' font-size="10.5" font-weight="normal" fill="#1c1c1c" stroke="#1c1c1c" stroke-width="0.38" text-anchor="start" textLength="49.4" lengthAdjust="spacingAndGlyphs">Amide proton</text><text x="590.2" y="312.3" font-family='"Liberation Sans", sans-serif' font-size="10.5" font-weight="normal" fill="#1c1c1c" stroke="#1c1c1c" stroke-width="0.38" text-anchor="start" textLength="17.9" lengthAdjust="spacingAndGlyphs">TMS</text></g></svg>
</body></html>
